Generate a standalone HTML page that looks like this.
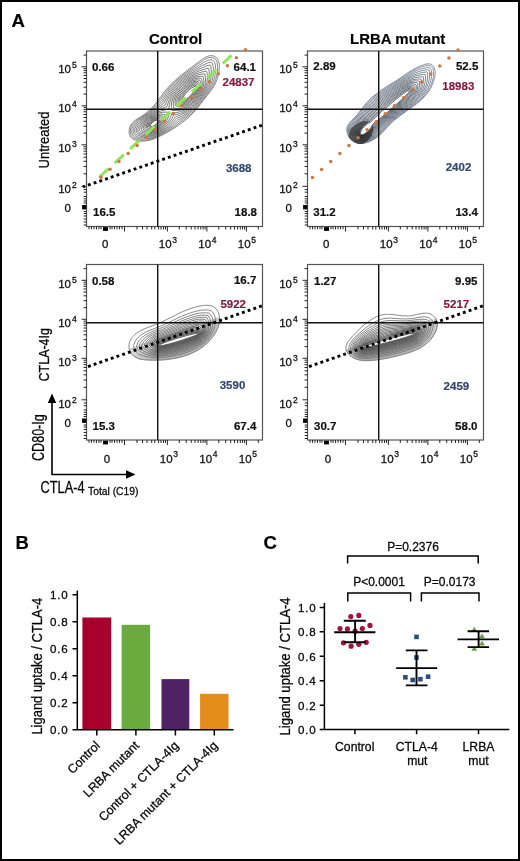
<!DOCTYPE html>
<html><head><meta charset="utf-8"><style>
html,body{margin:0;padding:0;background:#fff;}
body{width:520px;height:861px;overflow:hidden;}
svg{display:block;font-family:"Liberation Sans",sans-serif;will-change:transform;}
</style></head><body>
<svg width="520" height="861" viewBox="0 0 520 861">
<rect x="0" y="0" width="520" height="861" fill="#fff"/>
<g fill="none" stroke-width="0.7" stroke-opacity="1.0" stroke-linejoin="round"><path stroke="#5a5a5a" d="M144.8 141.1l-5 0 -3 -.6 -2.5 -.8 -1.2 -.7 -1 -.6 -1.3 -1.3 -1 -1.7 -.6 -2 0 -3.8 1 -3.5 1.5 -2.5 2.4 -2.4 1.2 -1 9.6 -6.1 4.3 -3.5 2.3 -2.2 4.1 -4.8 8.6 -11.5 4.2 -5 6.4 -6.4 4.1 -3.6 6.9 -5.6 16 -12 4.3 -2.6 3.5 -1.2 2.7 0 1.8 .4 2.2 1.3 1.4 1.7 1 2.5 .6 3.5 .1 1.8 -.3 1.2 0 2 -.7 4.5 -1 3.8 -1.3 3.5 -1.7 3.5 -2.7 4.2 -15.9 20.5 -5.7 6 -4.4 3.8 -8.1 6 -6.3 4.1 -6 3.5 -10 4.9 -5.2 1.8 -5.3 .9z"/><path stroke="#575757" d="M145.3 140.1l-.7 .2 -4.3 -.2 -2.2 -.4 -3.5 -1.2 -1.8 -1.1 -.8 -.8 -1 -1.5 -.6 -2 -.1 -3.2 .9 -3.3 1.4 -2.5 2 -2.1 1.2 -1.1 9.5 -6.3 4.1 -3.2 2.6 -2.5 4.4 -4.8 4.2 -4.9 4.6 -6.6 4.1 -5 6 -6.2 8.4 -7 11.5 -8.5 7.6 -5.3 2.5 -1.5 3 -1.3 2 -.4 1.8 .1 1.2 .3 2 1.2 1 1.4 .7 1.7 .7 4.5 -.1 3.3 -.6 4.2 -1 4.5 -1 3 -2.2 4.5 -2.7 4.3 -12.6 16.5 -2.3 2.7 -5.4 5.5 -4.6 3.8 -5.3 3.7 -5.2 4 -5.6 3.8 -6.3 3.5 -7.7 3.8 -5.3 1.7 -3.2 .7 -1.3 0z"/><path stroke="#545454" d="M144.6 139.1l-4.3 -.2 -3 -.8 -3 -1.4 -1 -.8 -.7 -1.1 -.8 -2.4 0 -2.3 .3 -2 1.4 -3 1.7 -2 3.4 -2.9 9.2 -6.5 7.1 -6.3 6.8 -7 4.6 -7 4 -5.2 5.7 -5.8 7.1 -6.1 8.5 -6.3 8 -5.1 6 -3.5 3.3 -1.3 1.7 -.3 1.7 .2 1.3 .7 .7 .9 .7 2.3 .5 2.2 0 3.3 -.3 4.5 -.7 4 -1.7 5.2 -2.4 4.8 -2.1 3.1 -8.5 11.3 -5.5 6.8 -4.2 4.2 -3.8 3.1 -7.4 5 -6.8 5.6 -7.5 5 -7.5 3.9 -3.5 1.4 -4 1.2 -5 .6z"/><path stroke="#505050" d="M147.3 137.9l-3.2 .1 -3.5 -.4 -3.3 -1 -1.7 -.9 -1.3 -1 -.5 -.8 -.4 -1.5 -.2 -1.8 .2 -1.2 .8 -2.8 1.9 -2.7 3 -2.8 11.5 -8.7 12 -10.5 4.7 -7.7 3.9 -5.1 5.4 -5.7 7.2 -6.3 3.8 -2.8 4.7 -3.2 8.5 -4.9 6.8 -3.2 2.7 -.7 1 0 .5 .1 .5 .9 .8 2.8 .3 3 0 3 -.5 5.5 -.7 3 -.9 2.5 -2.2 4.7 -2.5 4 -6.8 9 -4.8 6.1 -3.9 4 -2.8 2.4 -4.7 3.4 -5.8 3.3 -6.3 5.9 -5.4 4.1 -4.8 2.8 -5 2.6 -3.7 1.4 -3 .7 -2.3 .4z"/><path stroke="#4d4d4d" d="M146.8 136.9l-3 -.1 -3 -.5 -3 -1.1 -1.5 -.8 -1 -.9 -.4 -1.1 -.2 -1.3 .3 -2.5 .8 -2 2 -2.7 2 -2 2.3 -2 13 -10.1 8.7 -6.5 4.5 -8.2 3.8 -5.2 5.2 -5.7 7 -6.1 6.5 -4.6 7.2 -3.9 8.8 -3.8 2.5 -.7 .9 0 .4 1 .5 2.8 .2 6 -.6 5 -1.2 4 -1.9 4.2 -2.6 4.3 -5.9 8 -4.9 6 -3.9 3.8 -2.7 2.3 -5 3.2 -6.1 2.9 -3.9 4.4 -3.5 3.4 -5.5 4.1 -4.9 2.9 -4.4 1.9 -4.5 1.2 -3 .4z"/><path stroke="#4a4a4a" d="M149.3 135.6l-3.5 .2 -3.2 -.4 -3.5 -1.2 -2.5 -1.6 -.4 -2 .5 -2.5 1.1 -2.2 2.1 -2.5 4.2 -4 9 -6.9 5.2 -3.5 6.9 -4.1 2.4 -5.5 1.7 -3.4 3.7 -5.4 5.1 -5.5 7 -6.2 5 -3.5 5 -2.7 4 -1.7 4 -1.4 5.2 -1.5 .3 .5 .5 2.5 .3 5.3 -.6 5 -1.4 4.2 -1.6 3.5 -2.4 4 -5.1 6.8 -3.9 4.7 -2.3 2.5 -2.7 2.5 -2.6 2 -5.2 2.9 -6.3 2.5 -3.5 4.6 -3.4 3.8 -3.1 2.7 -2.2 1.7 -3.4 2.1 -3.9 1.9 -3.2 1.2 -3.3 .6z"/><path stroke="#474747" d="M149.8 134.6l-3 .1 -3.2 -.4 -2.8 -.9 -1.7 -.9 -1.2 -.9 -.1 -1.7 .6 -2 1.3 -2.3 2.3 -3 2.6 -2.5 3.3 -2.7 5.9 -4.4 5.5 -3.1 7.5 -3.3 2.5 -7.2 1.3 -2.8 1.8 -3 2 -2.7 4.4 -5 3.9 -3.5 3 -2.5 4.9 -3.4 4.5 -2.3 6.2 -2 4.5 -1 .8 .1 .3 1.1 .5 3 0 3.5 -.5 3.7 -1.2 4 -1.5 3.3 -2.5 4 -3.9 5.2 -4.2 5 -2.4 2.5 -2.6 2.3 -2.5 1.8 -5.5 2.6 -6.8 1.9 -2.7 4.7 -3.2 4.2 -3.3 3.3 -2 1.6 -3.2 2.1 -3.6 1.9 -2.4 .9 -3.6 .7z"/><path stroke="#444444" d="M150.3 133.6l-3.2 .1 -3.3 -.7 -2.5 -1 -1.9 -1.4 .1 -1.2 .9 -2.3 1.3 -2.2 1.9 -2.6 4.9 -4.4 3 -2.3 3.1 -2 3.2 -1.6 2.8 -1 8 -2 .9 -4.9 .8 -3 1.3 -3.5 1.7 -3.2 2 -2.8 3.5 -4 4.5 -4.4 3 -2.4 4.8 -3.3 4.5 -1.9 2.7 -.8 3.3 -.6 2.7 -.3 .5 .1 .7 3.9 0 3.7 -.5 3.3 -1.4 4 -1.6 3 -2.6 3.7 -6.4 7.8 -2.7 2.6 -2.5 2.1 -2.7 1.7 -3 1.3 -2.5 .8 -3.5 .7 -4 .5 -2 4.8 -1.6 3 -1.7 2.5 -2.8 3.2 -2.2 1.8 -4.5 3 -3.7 1.5 -3.3 .7z"/><path stroke="#404040" d="M178.6 110.4l-2.5 .1 -3.3 -.1 -1.2 -.2 -.4 -.6 .1 -4.5 .6 -4 1.5 -4.2 2.6 -4.3 3.6 -4.2 4.5 -4.4 3.2 -2.6 3.8 -2.5 2.7 -1.3 3.3 -.9 3.5 -.4 2.4 .1 .5 1.5 .4 2.7 -.1 2.8 -.3 2 -1.6 4.7 -3.2 5 -2.4 3 -4.1 4.8 -2.6 2.4 -2.5 2 -2.8 1.6 -3.2 1 -2.5 .5z"/><path stroke="#404040" d="M150.8 132.6l-2.5 .1 -2.5 -.4 -2.7 -1.1 -1.5 -.8 -.4 -.5 .3 -1.5 1 -2.3 1.4 -2.5 1.4 -1.8 2.3 -2.2 2.5 -2 3.5 -2.4 2 -1 3.2 -1.2 3.3 -.7 3.5 -.2 3.5 .2 .1 .6 -.4 2.2 -1.3 4 -1.6 3.3 -2.1 3 -2.4 2.2 -4.1 2.8 -3.7 1.7 -2.8 .5z"/><path stroke="#3d3d3d" d="M181.1 108.4l-1.8 .2 -2.5 -.1 -2.7 -.5 -.6 -.4 -.3 -3.7 .5 -3.5 1.2 -3.5 1.9 -3.3 3.3 -4 2.9 -3 3.6 -3.2 2.7 -2.1 2.8 -1.6 3 -1.1 3.2 -.5 3 .3 .4 1 .5 2.5 0 3.5 -1 4 -1.9 3.2 -3.9 5.3 -3.8 4.2 -2.7 2.5 -3.6 2.5 -1.7 .7 -2.5 .6z"/><path stroke="#3d3d3d" d="M151.6 131.6l-2.3 .2 -2 -.3 -2.3 -.9 -1.9 -1.2 .1 -1.3 .8 -2.2 .9 -2 1.5 -2 1.8 -1.8 2.6 -2.2 3 -1.9 1.8 -.8 2.5 -.7 2.5 -.4 3.5 .3 2.1 .5 .1 .5 -.1 1.5 -.7 3 -1.3 3 -1.4 2 -1.7 1.8 -3.3 2.5 -3 1.6 -3.2 .8z"/><path stroke="#3a3a3a" d="M181.3 106.9l-2 0 -1.6 -.3 -1.9 -.6 -.5 -.6 -.2 -3.3 .4 -3 .8 -2.2 1.8 -3 3 -3.8 2.7 -2.7 3.6 -3.3 2.4 -1.8 2.8 -1.5 2.2 -.7 2.5 -.3 2.4 .3 .5 1 .6 1.8 .1 3 -.8 3.5 -1.8 3.1 -3.4 4.6 -3.8 4.2 -1.7 1.6 -1.8 1.5 -2.4 1.5 -2.1 .7 -1.8 .3z"/><path stroke="#3a3a3a" d="M150.6 130.9l-1.5 -.1 -1.5 -.4 -1.8 -.8 -1 -1 .2 -1.7 .6 -2 .8 -1.5 1.1 -1.5 2.1 -2 1.7 -1.4 2.5 -1.6 1.5 -.6 2.3 -.6 2 -.1 2.2 .3 2 .7 .3 .5 0 1 -.6 3 -1.1 2.5 -1.7 2.3 -3.1 2.5 -2.3 1.2 -2.2 .9 -2.5 .4z"/><path stroke="#373737" d="M182.6 105.4l-1.5 0 -1.8 -.3 -2 -.8 -.4 -.7 -.2 -2.5 .4 -2.7 .6 -1.5 1.5 -2.5 2.6 -3.4 2.5 -2.6 3.8 -3.4 2.2 -1.7 2.3 -1.2 1.5 -.6 2.5 -.2 1.7 .3 1.1 2.3 .3 2.5 -.6 3 -1.4 2.5 -3.5 4.7 -3.7 4 -1.7 1.5 -1.7 1.4 -1.8 1 -2.7 .9z"/><path stroke="#373737" d="M151.8 129.9l-1.5 .1 -1.5 -.3 -1.5 -.7 -1 -.9 0 -1.5 .5 -2 1.4 -2.2 1.9 -2 1.5 -1.2 3.5 -1.9 2.2 -.5 1.5 0 1.5 .3 1.8 1 .3 .5 0 1 -.6 2.5 -.6 1.5 -1.3 1.8 -2.6 2.1 -1.5 1 -2.2 1 -1.8 .4z"/><path stroke="#343434" d="M182.3 104.1l-1.5 -.2 -1.2 -.5 -1 -.7 -.3 -.8 -.1 -1.5 .4 -2.3 1.9 -3.5 4.2 -5 2.4 -2.3 3 -2.4 2.5 -1.6 1.2 -.5 2 -.2 1.3 .3 1.2 2 .3 1.2 0 1 -.5 2.3 -2.3 3.6 -2.4 3.1 -3.6 3.8 -1.5 1.4 -3.2 2.2 -1 .3 -1.8 .3z"/><path stroke="#343434" d="M152.8 128.9l-2 .2 -1 -.1 -1.2 -.6 -1 -.8 -.1 -1 .2 -1.2 .3 -1.3 .6 -1 2.4 -2.5 1.3 -1 2.5 -1.4 3 -.4 1 .2 1.3 .6 .7 .8 .1 1.2 -.4 2 -1 1.8 -.7 .7 -2.3 2 -2.2 1.2 -1.5 .6z"/><path stroke="#303030" d="M184.3 102.6l-1.5 .2 -1.2 -.1 -1.3 -.8 -.6 -.8 -.1 -1 .2 -1.7 1.5 -3 4 -4.9 4.5 -4.1 1.8 -1.2 2 -1.1 1.5 -.2 1 .3 1 1.2 .4 1.5 -.2 2 -1.2 2.2 -3.2 4.3 -3.6 3.7 -3.2 2.6 -1.8 .9z"/><path stroke="#303030" d="M152.3 128.1l-2 0 -.7 -.3 -.8 -.7 -.2 -.7 .1 -1.5 .7 -1.5 1.9 -2.1 1.3 -1 2.2 -1.2 2.5 -.4 1.5 .7 .8 .7 .1 .8 -.3 1.7 -.9 1.5 -2.7 2.5 -2 1.1 -1.5 .4z"/><path stroke="#2d2d2d" d="M183.8 101.6l-1 .1 -.7 -.3 -.7 -.5 -.4 -.8 .1 -1.7 1.9 -3.3 3.3 -4 4 -3.7 1.8 -1.2 1.7 -.9 1 -.1 .8 .3 .8 1.1 0 1.8 -.9 2 -1.2 1.7 -2.1 2.8 -3.6 3.6 -3 2.3 -1.8 .8z"/><path stroke="#2d2d2d" d="M152.8 127.2l-2 .1 -1 -.6 -.2 -.6 0 -.7 .1 -.8 .4 -.7 1.7 -2.1 1.3 -.9 1.7 -.9 1.8 -.4 1.1 .3 .5 .5 .3 .7 -.1 1.3 -.6 1.2 -2.2 2.2 -2.8 1.4z"/><path stroke="#2a2a2a" d="M184.1 100.5l-.8 .1 -.6 -.2 -.4 -.5 0 -1 1.1 -2.3 2.2 -2.9 3.3 -3.6 2.2 -1.9 3 -1.7 1 0 .4 .6 -.1 1.5 -.8 1.5 -1.8 2.5 -1.4 1.8 -3.3 3.3 -1.5 1.2 -2.5 1.6z"/><path stroke="#2a2a2a" d="M152.3 126.4l-1.2 0 -.6 -.5 .1 -1.2 1.1 -1.6 1.8 -1.5 1.8 -1 1 -.1 .8 .1 .4 .5 0 .8 -.7 1.5 -1.8 1.7 -1.2 .8 -1.5 .5z"/></g>
<rect x="86.5" y="51" width="176" height="175.5" fill="none" stroke="#555" stroke-width="1.2"/>
<path d="M81.5 186.3H86.5M81.5 144.8H86.5M81.5 105.8H86.5M81.5 66.8H86.5M83.5 173.8H86.5M83.5 166.5H86.5M83.5 161.3H86.5M83.5 157.3H86.5M83.5 154H86.5M83.5 151.2H86.5M83.5 148.8H86.5M83.5 146.7H86.5M83.5 133.1H86.5M83.5 126.2H86.5M83.5 121.3H86.5M83.5 117.5H86.5M83.5 114.5H86.5M83.5 111.8H86.5M83.5 109.6H86.5M83.5 107.6H86.5M83.5 94.1H86.5M83.5 87.2H86.5M83.5 82.3H86.5M83.5 78.5H86.5M83.5 75.5H86.5M83.5 72.8H86.5M83.5 70.6H86.5M83.5 68.6H86.5M83.5 55.1H86.5M83.7 189.5H86.5M83.7 192.2H86.5M83.7 196.5H86.5M83.7 198.8H86.5M83.7 201H86.5M83.7 203H86.5M83.7 211.5H86.5M83.7 213.5H86.5M83.7 216H86.5M83.7 219H86.5M83.7 222H86.5M83.7 225H86.5M167.4 226.5V231.5M206.9 226.5V231.5M246.4 226.5V231.5M179.3 226.5V229.5M186.2 226.5V229.5M191.2 226.5V229.5M195 226.5V229.5M198.1 226.5V229.5M200.8 226.5V229.5M203.1 226.5V229.5M205.1 226.5V229.5M218.8 226.5V229.5M225.7 226.5V229.5M230.7 226.5V229.5M234.5 226.5V229.5M237.6 226.5V229.5M240.3 226.5V229.5M242.6 226.5V229.5M244.6 226.5V229.5M258.3 226.5V229.5M89 226.5V229.3M91.5 226.5V229.3M94 226.5V229.3M96.5 226.5V229.3M99 226.5V229.3M101 226.5V229.3M110 226.5V229.3M112 226.5V229.3M114.5 226.5V229.3M117 226.5V229.3M119.5 226.5V229.3M122 226.5V229.3M124.5 226.5V231.5M137 226.5V229.5M142.5 226.5V229.5M147 226.5V229.5M151.7 226.5V229.5M154.8 226.5V229.5M158.6 226.5V229.5M161 226.5V229.5M163.5 226.5V229.5M165.5 226.5V229.5" stroke="#111" stroke-width="0.9" fill="none"/>
<rect x="82.1" y="205" width="4.3" height="4.4" fill="#000"/>
<rect x="103" y="227.1" width="5" height="3.8" fill="#000"/>
<path d="M157.7 51V226.5M86.5 109.3H262.5" stroke="#111" stroke-width="1.4" fill="none"/>
<line x1="99.2" y1="177.3" x2="231.5" y2="55.4" stroke="#8ee65a" stroke-width="2.9" stroke-dasharray="12.5 8.5"/><g fill="#cd7843"><circle cx="101" cy="177.3" r="1.75"/><circle cx="110" cy="169.3" r="1.75"/><circle cx="119" cy="161.4" r="1.75"/><circle cx="128.1" cy="153.4" r="1.75"/><circle cx="137.1" cy="145.4" r="1.75"/><circle cx="146.1" cy="137.5" r="1.75"/><circle cx="155.2" cy="129.5" r="1.75"/><circle cx="164.2" cy="121.5" r="1.75"/><circle cx="173.2" cy="113.6" r="1.75"/><circle cx="182.2" cy="105.6" r="1.75"/><circle cx="191.2" cy="97.6" r="1.75"/><circle cx="200.3" cy="89.6" r="1.75"/><circle cx="209.3" cy="81.7" r="1.75"/><circle cx="218.3" cy="73.7" r="1.75"/><circle cx="227.4" cy="65.7" r="1.75"/><circle cx="236.4" cy="57.8" r="1.75"/><circle cx="245.4" cy="49.8" r="1.75"/></g><line x1="83" y1="186.9" x2="262.5" y2="125.1" stroke="#000" stroke-width="2.9" stroke-dasharray="2.9 3.14" stroke-dashoffset="0.8"/>
<g fill="#111"><text x="58.2" y="72.8" font-size="11.5" stroke="#111" stroke-width="0.28">10</text><text x="72" y="67.9" font-size="8.5" stroke="#111" stroke-width="0.28">5</text><text x="58.2" y="111.8" font-size="11.5" stroke="#111" stroke-width="0.28">10</text><text x="72" y="107" font-size="8.5" stroke="#111" stroke-width="0.28">4</text><text x="58.2" y="151.5" font-size="11.5" stroke="#111" stroke-width="0.28">10</text><text x="72" y="146.5" font-size="8.5" stroke="#111" stroke-width="0.28">3</text><text x="58.2" y="193.3" font-size="11.5" stroke="#111" stroke-width="0.28">10</text><text x="72" y="188.4" font-size="8.5" stroke="#111" stroke-width="0.28">2</text><text x="64.4" y="211.6" font-size="11.5" stroke="#111" stroke-width="0.28">0</text><text x="102" y="248.3" font-size="11.5" stroke="#111" stroke-width="0.28">0</text><text x="158.8" y="248.4" font-size="11.5" stroke="#111" stroke-width="0.28">10</text><text x="172.2" y="243" font-size="8.5" stroke="#111" stroke-width="0.28">3</text><text x="198.3" y="248.4" font-size="11.5" stroke="#111" stroke-width="0.28">10</text><text x="211.7" y="243" font-size="8.5" stroke="#111" stroke-width="0.28">4</text><text x="237.8" y="248.4" font-size="11.5" stroke="#111" stroke-width="0.28">10</text><text x="251.2" y="243" font-size="8.5" stroke="#111" stroke-width="0.28">5</text></g>
<g font-size="11.5" font-weight="bold"><text x="91.9" y="70.8" text-anchor="start" fill="#111" font-weight="bold" stroke="#111" stroke-width="0.2">0.66</text><text x="256" y="70.6" text-anchor="end" fill="#111" font-weight="bold" stroke="#111" stroke-width="0.2">64.1</text><text x="254.5" y="85.5" text-anchor="end" fill="#7e1c3c" font-weight="bold" stroke="#7e1c3c" stroke-width="0.2">24837</text><text x="251.5" y="171.5" text-anchor="end" fill="#34476e" font-weight="bold" stroke="#34476e" stroke-width="0.2">3688</text><text x="93" y="215.7" text-anchor="start" fill="#111" font-weight="bold" stroke="#111" stroke-width="0.2">16.5</text><text x="257" y="215.5" text-anchor="end" fill="#111" font-weight="bold" stroke="#111" stroke-width="0.2">18.8</text></g>
<g fill="none" stroke-width="0.7" stroke-opacity="1.0" stroke-linejoin="round"><path stroke="#56667a" d="M363 143.5l-3.5 .1 -2 -.4 -1.5 -.5 -2.5 -1.2 -2.3 -1.7 -1.8 -2.1 -1.7 -3 -.8 -2.8 0 -3.5 .6 -2.2 1.8 -3 7.4 -7.9 10.3 -13.1 5 -5 7 -5.4 6.7 -4.6 11 -6.8 10 -6.9 5.8 -3.7 5 -2.6 3 -1.3 4.2 -1.5 2.3 -.5 3 0 1 .3 1 .7 1.2 1.3 .7 1 1 2.7 .3 1.5 .1 2.5 -.6 3.5 -1.2 4.3 -1 2.7 -1.7 3.5 -2.5 4 -2.6 3.5 -5 5 -4.2 3.5 -16.4 11.8 -6.1 4.8 -4.5 4.3 -7.3 7.9 -4.2 3.8 -3 2.2 -4.5 2.5 -4 1.6 -3.5 .7z"/><path stroke="#536376" d="M363 143l-3.3 .1 -2 -.3 -1.7 -.6 -2 -1.1 -2.5 -1.9 -1.5 -1.8 -1.6 -3 -.8 -2.7 0 -3.3 .7 -2.2 1.7 -2.8 7.2 -7.6 10.5 -13.1 4.8 -4.8 7 -5.4 6.7 -4.6 10.8 -6.8 10.2 -6.9 3.8 -2.3 6.7 -3.5 3 -1.2 3.8 -1.2 2.7 -.6 2 .1 1 .2 1 .7 1.6 2 .9 3.5 -.1 3.8 -.6 3.2 -1.6 5 -1.7 3.7 -2.2 3.8 -2.5 3.5 -4.6 4.8 -4.4 3.7 -16.2 11.8 -6.1 4.8 -4.7 4.5 -7.3 7.8 -4.2 3.8 -2.8 2.1 -4.2 2.4 -4.3 1.7 -3.2 .7z"/><path stroke="#505f72" d="M362.7 142.4l-3 .1 -2.5 -.6 -3 -1.4 -2.3 -1.8 -1.3 -1.8 -1.5 -2.7 -.6 -2.8 0 -2.7 .7 -2.3 1.5 -2.5 8.5 -9.1 9.5 -11.6 4.5 -4.5 6.8 -5.3 6.7 -4.6 21.8 -14 5.5 -3 4.2 -1.9 3 -1 4 -1 2.3 -.4 1.7 .2 .8 .5 1 1.5 .7 2.5 .1 1 -.3 3.5 -.8 4 -.9 3 -2 4.7 -2.8 4.5 -2.8 3.5 -2.5 2.6 -4.2 3.7 -16 11.8 -6.3 5 -4.7 4.5 -7.3 7.7 -2.7 2.7 -3.3 2.6 -3.5 2.3 -3.2 1.6 -2.5 .8 -3.3 .7z"/><path stroke="#4d5c6e" d="M362.5 141.9l-2.5 0 -2.5 -.5 -3 -1.5 -2.1 -1.7 -1.2 -1.7 -1.3 -2.6 -.6 -2.7 .1 -2.3 .6 -2 1.5 -2.5 9.5 -10.2 8.5 -10.3 4.3 -4.2 6.9 -5.5 6.5 -4.5 19.3 -12.5 6 -3.2 6.5 -2.6 6 -1.4 2.7 -.3 .9 .2 .4 .6 .6 1.9 .1 2.5 -.3 3.5 -1.1 4.8 -1.6 4.2 -2 3.8 -1.5 2.5 -3.4 4 -2.3 2.2 -3.5 2.9 -15 11.2 -6.1 4.9 -4.9 4.6 -9.8 10.2 -3.5 2.8 -3.5 2.3 -3 1.5 -2.5 .9 -3.2 .7z"/><path stroke="#4a586a" d="M361.7 141.4l-2 -.1 -2.7 -.7 -2.3 -1.4 -1.7 -1.5 -1.1 -1.5 -1.2 -2.5 -.5 -2.5 .1 -2.3 .7 -2 1.2 -2 11.5 -12.4 6.6 -7.8 4.2 -4.2 7 -5.6 10.2 -7 14.8 -9.5 5.7 -2.8 5.3 -1.9 5.2 -1.2 3.8 -.5 .7 .2 .3 .7 .1 1.8 -.1 3.2 -.6 4.3 -.9 3 -1.5 3.8 -2.2 3.9 -3.6 4.5 -6.2 5.5 -13.8 10.5 -6.2 5 -5.2 4.8 -9.6 9.9 -3.3 2.8 -3.4 2.4 -3 1.5 -3.3 1.1 -3 .5z"/><path stroke="#485567" d="M363.2 140.7l-2.7 .1 -2 -.3 -1.8 -.7 -2.3 -1.6 -1.1 -1.3 -1.7 -3 -.5 -2.7 .1 -2 .5 -1.8 1.3 -2 11.5 -12.3 6.7 -7.9 4 -3.9 6.8 -5.4 8.2 -5.9 14.8 -9.6 5.2 -2.6 5.8 -2 4.7 -1 3 -.3 1.5 0 .3 1.2 0 3.2 -.4 3.3 -1 4 -.8 2.2 -1.8 3.8 -3.4 4.5 -3.1 3 -3 2.5 -13.8 10.7 -6.2 5.1 -4.6 4.2 -7.4 7.2 -2.8 3.1 -3.2 2.9 -3.5 2.5 -2.5 1.3 -2.3 .8 -2.5 .7z"/><path stroke="#455263" d="M362.7 140.2l-2.2 .1 -2 -.4 -1.8 -.9 -2 -1.5 -1.5 -2.1 -.9 -2.2 -.4 -2.3 .3 -2.2 1 -2 1.5 -2 4.9 -5.3 5.6 -5.7 6.8 -7.7 3.9 -3.8 6.8 -5.6 10 -7.1 12.3 -8 4 -2 5 -1.6 5.5 -1 2.5 -.1 1.3 .1 .2 1 -.2 4.3 -.5 3 -.7 2.5 -.8 2.2 -1.5 2.8 -2.1 3 -1.7 1.9 -7.3 6.2 -11 8.6 -6.1 5 -5.4 4.9 -6.8 6.6 -2.7 3.1 -3.2 3 -3.5 2.4 -2.5 1.4 -2 .7 -2.8 .7z"/><path stroke="#424e5f" d="M362.2 139.7l-2 0 -1.7 -.5 -2 -1 -1.4 -1.3 -1.3 -2 -.8 -2.2 -.2 -2 .4 -2 1.1 -2 2.3 -2.8 3.6 -4 5.7 -5.5 6.8 -7.7 4 -3.8 6.8 -5.5 9.7 -7 12 -8 3.5 -1.6 4.3 -1.2 5 -.6 2.7 0 .6 .2 .2 1.7 -.2 3.3 -.3 2.2 -.8 2.8 -.7 1.7 -1.4 2.5 -1.2 1.8 -1.7 1.8 -7 6.2 -10.7 8.5 -9.3 7.8 -9.4 8.9 -2.5 3 -3.5 3.3 -3.3 2.3 -2.3 1.2 -3 1.1 -2 .4z"/><path stroke="#3f4b5b" d="M361.7 139.2l-1.5 -.1 -1.7 -.5 -1.9 -1.2 -1.2 -1.2 -1 -1.8 -.6 -2 -.1 -1.7 .4 -2 1.1 -1.8 3.4 -4 4.1 -4.2 3.8 -3.4 7 -7.8 4 -3.8 6.5 -5.4 9.5 -6.9 6 -4.2 6 -3.8 3.5 -1.5 3.2 -.8 4 -.3 3.2 .4 .2 1 0 3 -.9 4.5 -1.8 3.7 -2.3 3 -2.4 2.3 -4.5 3.8 -10.7 8.7 -9.3 7.8 -9.5 8.9 -2.4 3 -3.4 3.3 -3.2 2.3 -2.5 1.3 -2.7 1 -2.3 .4z"/><path stroke="#3c4857" d="M363.2 138.4l-3 .1 -1.5 -.5 -1.4 -.8 -1 -1 -.8 -1.3 -.9 -3 .2 -2.2 .8 -1.8 2.3 -3 3.5 -3.7 5.6 -5 6.3 -7 5.3 -5 4.1 -3.5 5.3 -4.1 12 -8.6 6 -3.8 3 -1.2 2 -.4 2.2 -.2 2.5 .1 1.8 .4 .3 .8 .1 2.2 -.5 3.5 -1.5 3.8 -2.1 2.7 -2.1 2.1 -4.5 3.9 -20 16.7 -9.7 8.9 -2.3 2.9 -3 3 -3.3 2.5 -1.9 1.1 -2 .9 -1.8 .5z"/><path stroke="#394453" d="M363 137.9l-2.8 0 -1.2 -.4 -1.3 -.9 -.9 -.9 -.6 -1 -.7 -3 .2 -2 .8 -1.5 2.2 -2.9 3.4 -3.6 1.9 -1.8 3.5 -2.9 6.8 -7.3 6.9 -6.4 9.1 -7.1 10.2 -7.4 5.7 -3.7 2.3 -.9 2 -.4 1.7 0 2.3 .3 1.5 .5 .3 1.3 0 2.3 -.8 3.5 -.6 1.2 -.8 1.3 -2.8 3 -7.3 6.5 -14 11.6 -13 11.6 -2.3 3 -3.2 3.3 -3 2.3 -1.8 1 -2 .9 -1.7 .5z"/><path stroke="#36414f" d="M362.5 137.4l-2.3 -.1 -1 -.4 -1.2 -.9 -1.1 -1.6 -.6 -2.7 .3 -1.8 .6 -1.2 2.1 -2.8 3.4 -3.7 2 -1.8 3.5 -2.7 6.8 -7.2 7 -6.4 9 -7.2 10 -7.3 4.4 -2.9 2.8 -1.4 1.5 -.2 1.8 -.1 1.7 .4 1.3 .5 .3 1 .1 1.8 -.5 3 -1.2 2.1 -2.5 2.7 -7 6.4 -14.2 11.9 -13.3 11.7 -1.6 2.4 -1.5 1.8 -3.1 2.9 -2.1 1.6 -2.2 1.2 -1.5 .6 -1.7 .4z"/><path stroke="#343e4c" d="M361.5 136.9l-1 -.1 -.8 -.3 -1.6 -1.3 -.5 -1 -.3 -1.3 0 -2 .3 -1.2 1.4 -2.1 4.2 -4.7 2 -1.8 3.5 -2.5 7 -7.4 7 -6.3 8.9 -7.2 9.9 -7.4 4.2 -2.8 2.3 -1.1 1.5 -.2 1.2 0 1.5 .4 1 .5 .5 2.3 -.5 2.5 -.8 1.5 -2.5 2.8 -6.9 6.3 -27.3 23.4 -1.7 2.5 -1.5 1.8 -3.3 3.2 -2 1.4 -2.2 1.3 -2 .7 -1.5 .1z"/><path stroke="#313a48" d="M363.2 136.2l-2.2 .1 -.8 -.2 -.7 -.5 -1 -1.2 -.4 -2.2 .2 -1.8 .5 -1 1.9 -2.6 3 -3.3 3.3 -2.6 2.2 -1.5 7.3 -7.4 7 -6.4 8.7 -7.1 7.8 -5.9 4.7 -3.4 3 -1.7 1 -.2 1.3 -.1 1.2 .4 .8 .4 .5 1.7 -.4 2.2 -1.1 1.8 -1.8 1.9 -10.4 9.6 -23.8 20.3 -2.3 3.4 -2 2.3 -1.7 1.6 -3 2.1 -2.8 1.3z"/><path stroke="#2e3744" d="M363 135.7l-2 .1 -1 -.6 -.9 -1 -.2 -1.8 .3 -1.7 .3 -.8 1.8 -2.5 2.9 -3.2 3.3 -2.6 2.2 -1.3 7.3 -7.4 5.2 -4.7 5.8 -5 10.2 -8.1 7 -5.1 2.5 -1.4 1.8 -.3 .7 .1 .8 .5 .4 1.3 -.3 1.7 -.9 1.3 -1.7 1.9 -6.5 6.2 -6.5 5.8 -14.3 12.2 -7 5.9 -2 3.2 -2 2.3 -1.8 1.7 -3.4 2.4 -2 .9z"/><path stroke="#2b3340" d="M362.5 135.2l-1.5 0 -.8 -.6 -.4 -.7 0 -1.5 .4 -1.8 1 -1.7 1.8 -2.2 1.7 -1.8 3.3 -2.6 2.2 -1.2 4.2 -4.2 8.3 -7.7 9.3 -7.9 6.7 -5.4 4.5 -3.4 4 -2.6 1.5 -.6 .8 0 .6 .4 .2 .5 0 1 -.8 1.5 -1.5 1.7 -6.4 6.3 -14.6 12.8 -13.5 11.2 -1.9 3.2 -2 2.5 -1.6 1.6 -3.4 2.4 -2.1 .8z"/><path stroke="#28303c" d="M362 134.7l-.8 -.1 -.7 -.7 -.1 -1 .6 -1.7 1.7 -2.8 2.5 -2.8 3.3 -2.5 2.2 -1.1 4.3 -4.2 6.2 -5.8 15.6 -13.3 9.4 -7.1 2.3 -1.3 .5 -.1 .3 .2 .1 .5 -.1 .5 -1.8 2.3 -6.5 6.5 -14.5 12.8 -11 9.1 -2.5 1.9 -2.1 3.7 -1.8 2.2 -1.5 1.5 -3.4 2.5 -2.2 .8z"/></g><clipPath id="cTR"><ellipse cx="361" cy="133" rx="14" ry="10" transform="rotate(-42 361 133)"/></clipPath><g clip-path="url(#cTR)"><g fill="none" stroke-width="0.55" stroke-opacity="1.0" stroke-linejoin="round"><path stroke="#3a3a3a" d="M363 143.5l-3.5 .1 -2 -.4 -1.5 -.5 -2.5 -1.2 -2.3 -1.7 -1.8 -2.1 -1.7 -3 -.8 -2.8 0 -3.5 .6 -2.2 1.8 -3 7.4 -7.9 10.3 -13.1 5 -5 7 -5.4 6.7 -4.6 11 -6.8 10 -6.9 5.8 -3.7 5 -2.6 3 -1.3 4.2 -1.5 2.3 -.5 3 0 1 .3 1 .7 1.2 1.3 .7 1 1 2.7 .3 1.5 .1 2.5 -.6 3.5 -1.2 4.3 -1 2.7 -1.7 3.5 -2.5 4 -2.6 3.5 -5 5 -4.2 3.5 -16.4 11.8 -6.1 4.8 -4.5 4.3 -7.3 7.9 -4.2 3.8 -3 2.2 -4.5 2.5 -4 1.6 -3.5 .7z"/><path stroke="#393939" d="M363 143.2l-3.5 .1 -1.8 -.3 -1.7 -.6 -2.3 -1.1 -2.4 -1.9 -1.5 -1.7 -1.1 -1.8 -.7 -1.5 -.8 -2.7 .1 -3.3 .6 -2.2 1.8 -3 7.3 -7.6 10.4 -13.2 4.8 -4.8 7 -5.5 6.8 -4.6 10.7 -6.7 10.3 -7 5.7 -3.5 4.8 -2.5 3 -1.3 4.5 -1.4 2.2 -.5 2.5 .1 1 .3 1 .7 1 1 .9 1.5 .9 3.2 .1 2.5 -.5 3.3 -1.2 4.5 -1 2.7 -1.6 3.3 -2.4 4 -2.6 3.5 -4.8 4.9 -4.3 3.6 -16.2 11.7 -6 4.8 -4.8 4.5 -7.2 7.8 -4.3 3.8 -2.8 2.1 -4.4 2.5 -4.3 1.6 -3.2 .7z"/><path stroke="#393939" d="M362.7 142.9l-3.2 .1 -2.5 -.6 -3.1 -1.5 -2.4 -1.9 -1.3 -1.6 -1.7 -3 -.7 -2.7 0 -3 .7 -2.4 1.7 -2.9 7.2 -7.5 10.6 -13.2 4.5 -4.5 7 -5.5 6.7 -4.6 25 -16.1 6.5 -3.3 3.3 -1.3 3.5 -1 2.7 -.6 1.8 .1 1 .2 1 .6 1.4 2 .9 3.2 .1 1.8 -.2 2 -.6 3.2 -1.5 5 -1.6 3.5 -2.1 3.8 -2.7 3.7 -4.5 4.7 -4.2 3.6 -16.3 11.8 -6.1 4.9 -4.8 4.5 -7.1 7.8 -2.9 2.7 -2.3 1.8 -3 2.1 -3.3 1.8 -4 1.6 -3.5 .7z"/><path stroke="#383838" d="M362 142.7l-2.5 -.1 -3 -.8 -2.5 -1.3 -2.3 -1.8 -1.6 -2.3 -1.1 -2.2 -.7 -2.8 0 -2.7 .7 -2.3 1.7 -2.7 5.3 -5.5 3.1 -3.5 9.4 -11.6 4.5 -4.5 6.9 -5.4 6.6 -4.5 11 -7 7.5 -5 5 -3.1 5.7 -3 5.5 -2.1 3.8 -1 2.5 -.4 1.7 .1 1 .6 1.2 1.6 .8 3.3 -.3 4 -.8 4 -1 3.2 -2 4.5 -2.9 4.7 -2.5 3.1 -2.8 3 -4.4 3.7 -16 11.8 -6 4.8 -5 4.7 -7.2 7.7 -2.8 2.7 -3.3 2.6 -3.5 2.2 -3.2 1.6 -3.5 1.1 -3 .6z"/><path stroke="#373737" d="M362.7 142.2l-3 .1 -2.5 -.6 -3 -1.5 -2.1 -1.8 -1.6 -2.2 -1.1 -2.3 -.6 -2.5 .1 -2.7 .6 -2 1.5 -2.5 8.6 -9.3 9.4 -11.4 4.4 -4.3 6.8 -5.5 6.8 -4.6 21.2 -13.7 6 -3.1 4.3 -1.8 3 -1 3.7 -.8 2.3 -.3 1.5 .1 .5 .3 .8 1.4 .6 2 .1 1.2 -.5 5.3 -1.1 4.5 -1.4 3.5 -1.9 3.7 -2.4 3.7 -2.7 3.1 -1.5 1.6 -4.3 3.7 -16 11.9 -6 4.8 -5 4.7 -9.7 10.1 -3.5 2.9 -3.5 2.3 -3.3 1.5 -2.2 .8 -3.3 .7z"/><path stroke="#373737" d="M362.5 141.9l-2.5 .1 -2.6 -.6 -2.9 -1.5 -2.1 -1.7 -1.2 -1.7 -1.3 -2.6 -.6 -2.7 .1 -2.3 .6 -2 1.5 -2.5 9.5 -10.3 8.4 -10.2 4.4 -4.2 6.9 -5.5 6.5 -4.6 15.3 -10 6 -3.6 6.2 -3 4.5 -1.7 2.8 -.8 3.7 -.7 2.3 -.2 .7 .3 .9 2.5 .1 2.8 -.3 3.5 -1 4.5 -1.7 4.3 -1.9 3.7 -1.6 2.5 -3.4 4 -4.8 4.3 -16 12.1 -6 4.8 -5 4.6 -9.8 10.2 -3.5 2.9 -3.5 2.3 -3 1.5 -2.5 .8 -3.2 .7z"/><path stroke="#363636" d="M361.7 141.7l-2 -.1 -3 -.9 -2 -1.1 -2 -1.7 -1.2 -1.7 -1.2 -2.5 -.5 -2.5 .1 -2.3 .6 -2 1.4 -2.2 9.6 -10.3 8.5 -10.1 4.2 -4.1 6.9 -5.5 8.4 -5.9 16.7 -10.8 5.8 -2.9 5.2 -2.1 5.3 -1.4 3.7 -.5 1.6 .1 .6 1.7 0 5 -.8 4.5 -.9 3 -1.8 4 -2.1 3.8 -3.7 4.5 -6.4 5.5 -13.9 10.5 -6.2 5 -5.1 4.7 -9.7 10 -3.3 2.9 -3.5 2.3 -3 1.5 -3.3 1.1 -3 .5z"/><path stroke="#363636" d="M362.7 141.2l-2.7 .1 -2.3 -.5 -2.7 -1.5 -2 -1.8 -1.4 -2.1 -.8 -2 -.5 -2.2 .2 -2.3 .6 -2 1.3 -2 11.4 -12.2 6.7 -8 4.1 -4 6.9 -5.5 10.4 -7.3 11.3 -7.4 3.3 -1.9 6 -2.9 5.2 -1.8 5.3 -1.2 3.5 -.3 .5 .2 .3 2.1 -.1 3.2 -.6 4.3 -.8 3 -1.5 3.7 -2 3.8 -3.6 4.5 -3.1 3 -3.1 2.5 -14 10.7 -6.2 5 -5.1 4.7 -6.7 6.8 -2.8 3 -3.4 3 -3.6 2.4 -2.7 1.4 -2.3 .8 -3 .7z"/><path stroke="#353535" d="M362.2 140.9l-2.2 0 -2.8 -.7 -2.1 -1.3 -1.9 -1.7 -.9 -1.5 -1 -2.3 -.5 -2.5 .2 -2 .6 -1.7 1.3 -2 11.4 -12.3 6.7 -7.8 4 -3.9 6.8 -5.5 8.4 -5.9 14.8 -9.7 5.2 -2.7 5.8 -2 4.7 -1.1 2.8 -.4 2.2 0 .3 .5 .1 1.3 -.1 3.2 -.5 3.3 -1 4 -.9 2.5 -1.9 3.7 -3.5 4.5 -3 2.9 -3.1 2.6 -13.9 10.7 -6 4.9 -5.3 4.9 -6.7 6.6 -2.8 3.2 -3.4 2.9 -3.5 2.4 -2.8 1.4 -3.2 1.1 -2.3 .4z"/><path stroke="#343434" d="M361.5 140.7l-1.5 -.1 -2.8 -.8 -2 -1.3 -1.6 -1.6 -1.2 -2 -.8 -2.2 -.2 -2 .3 -2.4 1 -1.9 1.3 -1.7 10.7 -11.4 6.8 -7.8 3.9 -3.8 6.8 -5.5 8.3 -5.9 14.6 -9.6 5.1 -2.5 4 -1.4 2.5 -.6 4.3 -.7 3 -.3 .7 .2 .2 2.3 -.3 3.7 -1.1 5 -1 2.8 -1.3 2.7 -1.7 2.5 -1.8 2.2 -2.9 2.8 -3.1 2.6 -13.6 10.7 -6.1 5 -4.8 4.3 -7.3 7.2 -2.9 3.2 -3.3 2.9 -3.5 2.5 -2.7 1.4 -3.8 1.2 -2.2 .3z"/><path stroke="#343434" d="M363 140.2l-2.5 .1 -2 -.4 -1.7 -.7 -2.1 -1.7 -1.6 -2.1 -.8 -2 -.4 -2.5 .2 -2 .9 -2 1.7 -2.2 4.8 -5.3 5.7 -5.7 6.7 -7.8 3.9 -3.7 6.9 -5.6 10 -7.1 12.3 -8.1 2.7 -1.4 2.8 -1.1 3.7 -1.2 5.3 -.9 3.5 -.2 .5 .2 .1 1.1 -.1 3.5 -.3 2.3 -.8 3.5 -1.9 4.5 -1.6 2.5 -1.5 2 -2.8 2.7 -3.1 2.7 -19.8 15.8 -5.5 5 -6.7 6.5 -2.8 3.2 -3.2 2.9 -3.4 2.4 -2.4 1.3 -2.2 .9 -2.5 .6z"/><path stroke="#333333" d="M362.2 139.9l-2 0 -2 -.5 -2 -1.1 -1.3 -1.1 -1.4 -2 -.8 -2.3 -.3 -2.2 .3 -2 1.1 -2 1.6 -2 4.5 -5 5.7 -5.5 6.7 -7.8 3.9 -3.7 6.8 -5.5 10 -7.2 12 -8 3.5 -1.6 5 -1.6 4.5 -.7 3.5 -.1 .7 .1 .2 2.3 -.1 2.8 -.6 3 -.7 2.5 -1 2.5 -1.3 2.2 -1.4 2 -1.8 2 -7 6 -11 8.7 -9 7.6 -9.3 8.8 -2.7 3.2 -3.3 3 -3.4 2.5 -2.3 1.2 -2.3 .9 -3 .6z"/><path stroke="#323232" d="M361.5 139.7l-1.5 -.1 -2.3 -.8 -1.7 -1.2 -1.4 -1.4 -.8 -1.5 -.7 -2.3 -.2 -1.7 .4 -2 1.1 -2 2.3 -2.8 3.7 -4 5.5 -5.2 7.1 -8 3.7 -3.6 6.8 -5.5 9.7 -7.1 12 -7.9 3.5 -1.7 4 -1.1 5.3 -.6 2.5 0 .6 .2 .2 1.8 -.2 3 -.3 2.2 -.7 2.5 -.8 2 -1.3 2.5 -1.2 1.8 -1.6 1.7 -7 6.1 -10.8 8.7 -9.2 7.7 -9.5 9 -2.5 2.9 -3.5 3.4 -3.2 2.2 -2.5 1.4 -3 1 -2.5 .4z"/><path stroke="#323232" d="M363 139.2l-2.5 .1 -1.8 -.4 -1.5 -.8 -1.7 -1.4 -1.2 -2 -.7 -2 -.1 -2 .3 -1.8 1.1 -2 2.3 -2.8 5.3 -5.5 3.7 -3.5 7 -7.8 4 -3.8 6.8 -5.5 9.5 -7 12 -7.9 3.5 -1.6 3.5 -.8 3.7 -.4 3 .1 .7 .3 .2 1.5 -.1 3.2 -1 4.5 -1.9 3.8 -2.4 2.9 -6.8 6.1 -10.9 8.7 -9.1 7.8 -9.6 9 -2.3 2.8 -3.3 3.2 -3.5 2.5 -2 1.1 -2 .8 -2.2 .6z"/><path stroke="#313131" d="M362.2 138.9l-1.7 .1 -1.8 -.5 -1.8 -1.1 -1.2 -1.2 -1 -1.8 -.6 -2 -.1 -1.7 .3 -1.8 1 -1.7 3.4 -4.1 4.1 -4.2 3.9 -3.4 7 -7.8 4 -3.8 6.5 -5.3 9.5 -7 6 -4.2 5.8 -3.7 3.5 -1.5 3.2 -.7 3.5 -.1 3 .3 .3 .7 0 2.8 -.3 2.5 -.4 2 -1.7 3.7 -2.2 2.8 -2.3 2.2 -4.6 4 -10.5 8.5 -9.4 8 -9.7 9 -2.2 2.8 -3.5 3.3 -3.2 2.4 -2.3 1.2 -2.7 1 -1.8 .3z"/><path stroke="#303030" d="M361.5 138.7l-1.3 -.1 -1.7 -.6 -1.6 -1.1 -.9 -1 -.8 -1.5 -.7 -2.2 .1 -1.8 .3 -1.5 1.8 -2.7 2.5 -2.9 4 -4 3.8 -3.3 7 -7.6 4.2 -4 6.5 -5.4 12.8 -9.4 8.2 -5.4 2.5 -1.1 3 -.7 3.5 -.1 3 .5 .3 1.4 0 2.7 -.4 2.3 -.5 1.7 -1.5 3 -3.4 3.8 -7.5 6.4 -8.1 6.6 -9.4 8 -9.7 8.9 -2.2 2.8 -3.3 3.3 -3.3 2.4 -2.2 1.3 -2.9 1 -2.1 .3z"/><path stroke="#303030" d="M363.2 138.2l-3 0 -1.2 -.4 -1.3 -.8 -1 -.8 -.8 -1.3 -.9 -3 .2 -2.2 .8 -1.6 2.3 -2.9 3.4 -3.8 5.5 -4.8 6.5 -7.1 5.3 -5 4.2 -3.6 5.2 -4 11.8 -8.5 5.8 -3.7 2.5 -1 2 -.5 2.2 -.1 2.3 .2 1.7 .5 .3 .8 .1 2.1 -.1 1.7 -.4 1.8 -1.2 3 -2.2 2.7 -1.8 1.8 -6.8 6 -12.6 10.3 -6.5 5.7 -8.5 7.7 -2 2.7 -3 3.1 -3.3 2.5 -1.7 1 -2 .9 -1.8 .6z"/><path stroke="#2f2f2f" d="M362.5 137.9l-1.5 .1 -1 -.2 -1.3 -.5 -1.2 -.9 -.8 -.9 -.5 -1.1 -.7 -2.7 .3 -2 .7 -1.4 2.2 -2.9 3.5 -3.7 1.8 -1.8 3.5 -2.7 7 -7.5 7 -6.5 8.9 -7 10.1 -7.3 4.5 -3 1.7 -1 1.5 -.5 2 -.4 1.8 -.1 2.2 .3 1.6 .5 .3 1 .1 2.2 -.2 1.8 -.6 2 -.6 1.2 -.8 1.3 -2.8 2.9 -7.2 6.5 -14 11.6 -13.1 11.7 -2.3 3 -3.1 3.2 -3 2.3 -2.1 1.3 -1.9 .8 -2 .4z"/><path stroke="#2e2e2e" d="M361.2 137.7l-2 -.6 -1.8 -1.4 -.9 -1.8 -.4 -1.5 0 -1.2 .2 -1.5 .7 -1.3 2.1 -2.7 3.4 -3.6 2 -1.9 3.5 -2.7 6.7 -7.2 7 -6.4 9 -7.2 10 -7.3 4.5 -3 1.8 -.9 1.2 -.5 1.8 -.3 1.7 0 2 .3 1.3 .6 .3 1.3 0 1.8 -.7 3.2 -1.3 2.3 -2.6 2.7 -7 6.3 -17.2 14.5 -10 8.9 -3.3 4.2 -3.2 3 -2.2 1.6 -2.6 1.4 -2 .7 -2 .2z"/><path stroke="#2e2e2e" d="M363 137.2l-2.5 0 -1 -.3 -1.1 -.7 -1.2 -1.5 -.6 -2.8 .2 -2 .7 -1.2 2.1 -2.8 3.1 -3.4 2.1 -1.8 3.4 -2.6 7 -7.4 7 -6.4 9 -7.3 9.8 -7.1 4.5 -3 2.5 -1.2 1.5 -.3 1.7 0 1.5 .3 1.3 .5 .4 .7 .2 1.8 -.5 3 -1.1 2 -2.5 2.7 -7.2 6.5 -13.9 11.8 -13.4 11.7 -2.1 3 -2.8 3 -1.8 1.5 -2.6 1.8 -2 1 -1.7 .5z"/><path stroke="#2d2d2d" d="M362.7 136.9l-2.2 0 -1 -.4 -1 -.8 -.9 -1.3 -.5 -2.5 .2 -1.7 .7 -1.3 2 -2.7 3 -3.3 2.2 -2 3.5 -2.5 6.9 -7.2 7.1 -6.5 8.8 -7.1 10 -7.4 4.2 -2.8 2.3 -1.1 1.5 -.3 1.2 0 1.5 .4 1.1 .5 .3 .8 .2 1.5 -.4 2.5 -.9 1.7 -2.4 2.8 -7.1 6.4 -27.3 23.4 -2.4 3.4 -2.1 2.3 -1.6 1.5 -3.9 2.6 -3 1.1z"/><path stroke="#2d2d2d" d="M363.2 136.5l-2.5 .1 -1.5 -.8 -.7 -.6 -.4 -.8 -.5 -2.2 .3 -2 .5 -1 1.9 -2.5 3.2 -3.5 3.2 -2.8 2.3 -1.5 7 -7.2 7.2 -6.5 8.8 -7.2 7.7 -5.8 4.8 -3.4 3.2 -1.8 1.3 -.3 1.2 0 1.3 .3 1 .4 .4 .8 .2 1.2 -.3 2.3 -.8 1.5 -2.3 2.6 -7 6.4 -27.3 23.5 -2.4 3.5 -2 2.2 -1.7 1.5 -3.1 2.2 -3 1.4z"/><path stroke="#2c2c2c" d="M363 136.2l-2.3 .1 -1.4 -.9 -.9 -1.2 -.2 -2 .2 -1.8 .5 -1 1.8 -2.5 3 -3.3 3.3 -2.7 2.2 -1.4 7.3 -7.4 7 -6.4 8.7 -7.2 7.8 -5.8 4.7 -3.4 3 -1.7 1 -.3 1.3 0 1.2 .4 .8 .5 .4 1.7 -.3 2 -1.2 1.8 -1.7 1.8 -10.5 9.6 -23.7 20.3 -2.4 3.5 -1.9 2.3 -1.7 1.5 -3.8 2.6 -2.2 .9z"/><path stroke="#2b2b2b" d="M362.7 135.9l-2 0 -1.1 -.7 -.7 -1 -.3 -1.8 .4 -2 .3 -.7 1.8 -2.5 2.9 -3.1 3.2 -2.7 2.3 -1.3 7.5 -7.6 6.9 -6.3 7.3 -6 6.8 -5.3 7 -5.1 2.7 -1.6 1 -.3 1 0 1.5 .6 .5 1.4 -.2 2 -1 1.5 -1.6 1.8 -10.4 9.6 -24 20.5 -2.2 3.4 -1.9 2.2 -1.9 1.7 -3.5 2.5 -2.3 .8z"/><path stroke="#2b2b2b" d="M363.2 135.4l-2 .2 -1 -.4 -.9 -1 -.2 -1.8 .5 -2 1 -1.7 2 -2.5 1.7 -1.8 3.4 -2.7 2 -1.1 7.5 -7.5 5.1 -4.7 9.2 -7.7 7 -5.5 6.7 -4.9 2.5 -1.5 .8 -.2 1 -.1 1.2 .6 .4 1.1 -.1 1.5 -1 1.5 -1.6 1.7 -6.5 6.3 -6.5 5.7 -14.2 12.2 -7.2 5.9 -2 3.4 -1.9 2.3 -1.9 1.7 -3.2 2.3 -1.8 .7z"/><path stroke="#2a2a2a" d="M363 135.2l-1.8 .1 -.7 -.3 -.8 -.8 -.1 -1.5 .4 -2 1.1 -1.8 2 -2.5 1.6 -1.7 3.3 -2.5 2.2 -1.3 4 -4.1 8.5 -7.9 9.2 -7.7 6.8 -5.5 4.4 -3.3 4.1 -2.7 1 -.5 .8 -.1 .7 .1 .5 .4 .3 .6 0 1 -.8 1.5 -1.7 1.9 -6 5.8 -15 13.3 -13.3 11 -2.1 3.5 -1.9 2.2 -1.7 1.7 -3.3 2.3 -1.7 .8z"/></g></g>
<rect x="307.5" y="51" width="176" height="175.5" fill="none" stroke="#555" stroke-width="1.2"/>
<path d="M302.5 186.3H307.5M302.5 144.8H307.5M302.5 105.8H307.5M302.5 66.8H307.5M304.5 173.8H307.5M304.5 166.5H307.5M304.5 161.3H307.5M304.5 157.3H307.5M304.5 154H307.5M304.5 151.2H307.5M304.5 148.8H307.5M304.5 146.7H307.5M304.5 133.1H307.5M304.5 126.2H307.5M304.5 121.3H307.5M304.5 117.5H307.5M304.5 114.5H307.5M304.5 111.8H307.5M304.5 109.6H307.5M304.5 107.6H307.5M304.5 94.1H307.5M304.5 87.2H307.5M304.5 82.3H307.5M304.5 78.5H307.5M304.5 75.5H307.5M304.5 72.8H307.5M304.5 70.6H307.5M304.5 68.6H307.5M304.5 55.1H307.5M304.7 189.5H307.5M304.7 192.2H307.5M304.7 196.5H307.5M304.7 198.8H307.5M304.7 201H307.5M304.7 203H307.5M304.7 211.5H307.5M304.7 213.5H307.5M304.7 216H307.5M304.7 219H307.5M304.7 222H307.5M304.7 225H307.5M388.4 226.5V231.5M427.9 226.5V231.5M467.4 226.5V231.5M400.3 226.5V229.5M407.2 226.5V229.5M412.2 226.5V229.5M416 226.5V229.5M419.1 226.5V229.5M421.8 226.5V229.5M424.1 226.5V229.5M426.1 226.5V229.5M439.8 226.5V229.5M446.7 226.5V229.5M451.7 226.5V229.5M455.5 226.5V229.5M458.6 226.5V229.5M461.3 226.5V229.5M463.6 226.5V229.5M465.6 226.5V229.5M479.3 226.5V229.5M310 226.5V229.3M312.5 226.5V229.3M315 226.5V229.3M317.5 226.5V229.3M320 226.5V229.3M322 226.5V229.3M331 226.5V229.3M333 226.5V229.3M335.5 226.5V229.3M338 226.5V229.3M340.5 226.5V229.3M343 226.5V229.3M345.5 226.5V231.5M358 226.5V229.5M363.5 226.5V229.5M368 226.5V229.5M372.7 226.5V229.5M375.8 226.5V229.5M379.6 226.5V229.5M382 226.5V229.5M384.5 226.5V229.5M386.5 226.5V229.5" stroke="#111" stroke-width="0.9" fill="none"/>
<rect x="303.1" y="205" width="4.3" height="4.4" fill="#000"/>
<rect x="324" y="227.1" width="5" height="3.8" fill="#000"/>
<path d="M378.7 51V226.5M307.5 109.3H483.5" stroke="#111" stroke-width="1.4" fill="none"/>
<g fill="#cd7843"><circle cx="312.5" cy="177.5" r="1.75"/><circle cx="321.6" cy="169.5" r="1.75"/><circle cx="330.7" cy="161.6" r="1.75"/><circle cx="339.8" cy="153.6" r="1.75"/><circle cx="348.9" cy="145.6" r="1.75"/><circle cx="358" cy="137.7" r="1.75"/><circle cx="367.1" cy="129.7" r="1.75"/><circle cx="376.2" cy="121.7" r="1.75"/><circle cx="385.2" cy="113.8" r="1.75"/><circle cx="394.3" cy="105.8" r="1.75"/><circle cx="403.4" cy="97.8" r="1.75"/><circle cx="412.5" cy="89.8" r="1.75"/><circle cx="421.6" cy="81.9" r="1.75"/><circle cx="430.7" cy="73.9" r="1.75"/><circle cx="439.8" cy="65.9" r="1.75"/><circle cx="448.9" cy="58" r="1.75"/><circle cx="458" cy="50" r="1.75"/></g>
<g fill="#111"><text x="279.2" y="72.8" font-size="11.5" stroke="#111" stroke-width="0.28">10</text><text x="293" y="67.9" font-size="8.5" stroke="#111" stroke-width="0.28">5</text><text x="279.2" y="111.8" font-size="11.5" stroke="#111" stroke-width="0.28">10</text><text x="293" y="107" font-size="8.5" stroke="#111" stroke-width="0.28">4</text><text x="279.2" y="151.5" font-size="11.5" stroke="#111" stroke-width="0.28">10</text><text x="293" y="146.5" font-size="8.5" stroke="#111" stroke-width="0.28">3</text><text x="279.2" y="193.3" font-size="11.5" stroke="#111" stroke-width="0.28">10</text><text x="293" y="188.4" font-size="8.5" stroke="#111" stroke-width="0.28">2</text><text x="285.4" y="211.6" font-size="11.5" stroke="#111" stroke-width="0.28">0</text><text x="323" y="248.3" font-size="11.5" stroke="#111" stroke-width="0.28">0</text><text x="379.8" y="248.4" font-size="11.5" stroke="#111" stroke-width="0.28">10</text><text x="393.2" y="243" font-size="8.5" stroke="#111" stroke-width="0.28">3</text><text x="419.3" y="248.4" font-size="11.5" stroke="#111" stroke-width="0.28">10</text><text x="432.7" y="243" font-size="8.5" stroke="#111" stroke-width="0.28">4</text><text x="458.8" y="248.4" font-size="11.5" stroke="#111" stroke-width="0.28">10</text><text x="472.2" y="243" font-size="8.5" stroke="#111" stroke-width="0.28">5</text></g>
<g font-size="11.5" font-weight="bold"><text x="313.3" y="70" text-anchor="start" fill="#111" font-weight="bold" stroke="#111" stroke-width="0.2">2.89</text><text x="478.3" y="69.6" text-anchor="end" fill="#111" font-weight="bold" stroke="#111" stroke-width="0.2">52.5</text><text x="474.3" y="90" text-anchor="end" fill="#7e1c3c" font-weight="bold" stroke="#7e1c3c" stroke-width="0.2">18983</text><text x="471.3" y="171" text-anchor="end" fill="#34476e" font-weight="bold" stroke="#34476e" stroke-width="0.2">2402</text><text x="313.3" y="215.5" text-anchor="start" fill="#111" font-weight="bold" stroke="#111" stroke-width="0.2">31.2</text><text x="477.8" y="215.5" text-anchor="end" fill="#111" font-weight="bold" stroke="#111" stroke-width="0.2">13.4</text></g>
<g fill="none" stroke-width="0.7" stroke-opacity="1.0" stroke-linejoin="round"><path stroke="#5a5a5a" d="M158.7 360.2l-10 -.1 -1 -.2 -3 -.1 -3.7 -.5 -2.8 -.8 -2.7 -1.3 -1.8 -1.2 -2.2 -2.2 -1.5 -2.4 -1 -2.8 0 -4.2 .8 -2.8 1.4 -2.8 1.6 -2.2 2.2 -2.2 4.5 -3.1 4.7 -2.4 4.5 -1.8 7 -2.5 4.3 -1.7 22.7 -11.3 5 -2 5.8 -2 3.5 -1 5.2 -1 2 -.3 5 .1 1.8 .3 1.7 .6 2.8 1.8 1.9 2.5 1.1 2.3 .7 2.5 .4 1.7 0 4 -.5 3 -1.3 4 -2.2 4.5 -2.4 3.8 -2.2 2.7 -3.3 3.6 -3.7 3.2 -4.5 3.2 -3.3 1.9 -4.7 2.3 -3 1.3 -6 2 -7.8 1.8 -8.7 1.3 -2 0 -1 .2 -3.5 .1 -.8 .2z"/><path stroke="#575757" d="M162.5 357.6l-5 .2 -8 -.6 -6.2 -1.3 -3.3 -1.2 -1.8 -.9 -1.7 -1.4 -1.3 -1.5 -.8 -1.5 -.6 -1.8 -.1 -2 .3 -1.2 1.5 -3.6 1.3 -1.9 1.9 -2 2.8 -2.3 4 -2.3 4.5 -2.1 7 -2.6 7.2 -3 15.8 -7.6 7.7 -3.2 7.5 -2.4 5 -1.1 4.5 -.4 3.5 .1 1.8 .4 1.2 .6 1.4 1.1 1.6 2.5 1.1 3.5 .3 2.5 -.6 4.8 -1.8 5.5 -1.8 3.5 -2.3 3.5 -2.6 3 -3.8 3.3 -4.5 2.9 -3.2 1.8 -7.5 3.3 -5.8 1.9 -5.2 1.3 -7 1.4 -7 .8z"/><path stroke="#535353" d="M162.7 356.1l-5.2 .3 -6.3 -.8 -5.5 -1.4 -4.7 -2.1 -1.6 -1 -1 -1 -1 -1.2 -.5 -1.3 -.2 -1 .1 -1.2 1 -2.8 1.7 -2.6 2.7 -2.6 3 -2.3 2.5 -1.4 3.8 -1.9 13.7 -5.4 12.9 -6 6.9 -2.9 5 -1.9 4 -1.2 2 -.6 4.7 -.8 4.5 -.2 2.8 .2 1.5 .4 1 .9 1.4 2.3 .6 1.8 .3 1.7 0 4.3 -.6 3.2 -1.3 4 -2 4 -2.7 3.8 -2.7 2.5 -2.8 2.1 -4.7 2.7 -5.5 2.6 -3.5 1.4 -5.5 1.8 -5.3 1.4 -7 1.4 -6.5 .8z"/><path stroke="#505050" d="M158 355.2l-2.5 -.3 -3.5 -.7 -2 -.5 -3.8 -1.5 -4 -2.1 -1.5 -1.2 -.9 -1 -.5 -1 0 -1 .5 -1.8 .8 -1.5 2.7 -3.2 2.6 -2.3 3.6 -2.3 3.2 -1.7 13 -5.1 15.8 -7 9.2 -3.5 5.5 -1.5 5 -.8 4.5 0 2.3 .4 .7 .5 1.4 2.8 .6 3.2 0 3.3 -.6 3.7 -1.3 4 -1.6 3 -2 2.8 -2.5 2.3 -2.7 1.9 -6 3.3 -6.3 2.7 -5.7 1.9 -6 1.6 -7 1.5 -7 1 -4 .1z"/><path stroke="#4c4c4c" d="M162.7 353.9l-1.7 .2 -4.3 -.1 -3.5 -.8 -3.2 -1.2 -3.8 -2 -4 -3 -.5 -.6 -.1 -.5 .7 -1.8 1.9 -2.7 2.1 -2.3 2.5 -2 3.3 -2 4.1 -1.8 10.3 -4 15.5 -6.7 9.2 -3.3 5.5 -1.5 2.8 -.4 3 -.2 3.2 .2 1.4 .5 .9 2 .7 3.5 .1 3.7 -.4 2.8 -.7 2.5 -1.4 3.2 -1.7 2.5 -2.4 2.3 -2.7 1.9 -4.5 2.4 -5.5 2.5 -3.8 1.4 -5 1.6 -7 1.8 -6.7 1.3 -4.3 .6z"/><path stroke="#494949" d="M163 352.9l-1.8 .2 -4 -.1 -2.2 -.5 -2.3 -.8 -2.5 -1.3 -3.5 -2.5 -2.4 -2.3 -.1 -.7 2 -3 3 -3 3.6 -2.5 3.9 -1.9 10.3 -4 15.2 -6.3 9.5 -3.3 4.3 -1.2 3.7 -.5 3.3 0 2 .2 .5 .2 1 2.8 .5 2.5 .2 2.7 -.4 3.5 -.6 2.3 -1 2.2 -1.4 2 -2.1 2.1 -2.5 1.7 -4.7 2.5 -9 3.7 -6.3 1.9 -5.7 1.5 -6.8 1.4 -3.7 .5z"/><path stroke="#454545" d="M162 352.2l-2.3 .1 -2.5 -.2 -2 -.6 -1.9 -.9 -2.6 -1.6 -1.7 -1.6 -2.2 -2.5 .1 -.8 2.1 -2.8 2.2 -2.2 2.9 -2 3.4 -1.5 25.2 -10 9 -3.1 3.8 -1.1 3.2 -.4 3.8 -.1 1 .2 .3 .3 .9 2 .8 2.8 .2 2.4 -.1 2.5 -.6 2.8 -.8 1.7 -1 1.5 -2.2 2.2 -2.3 1.4 -4.5 2.3 -9.5 3.8 -5.7 1.8 -5.8 1.5 -6.5 1.3 -4.7 .8z"/><path stroke="#424242" d="M161.2 351.4l-4 -.3 -2.5 -1 -1.5 -1 -1.5 -1.2 -1.1 -1.3 -1.2 -1.7 -.3 -.5 0 -.5 .8 -1.3 1.8 -2.1 2 -1.6 1.8 -1.1 2.5 -1.2 25 -9.7 5.5 -1.9 6.5 -1.9 2 -.4 4 -.2 .8 .1 .4 .5 1.1 2 .8 2.3 .4 2.2 0 2.3 -.5 2 -1 2.2 -2.5 2.6 -2 1.2 -4.8 2.4 -9.5 3.7 -5.7 1.8 -7.3 1.8 -6.5 1.3 -3.5 .5z"/><path stroke="#3e3e3e" d="M162.5 350.4l-2.5 .2 -2.3 -.2 -1.7 -.7 -1.6 -1.1 -1.9 -2 -1.4 -2.5 .1 -.7 1.1 -1.5 1.4 -1.5 1.4 -1 3.1 -1.7 19 -7.3 11.8 -4.1 6.7 -1.9 3.5 -.4 1 .2 1.8 2.2 .8 1.7 .5 1.8 .2 1.7 -.3 2 -.7 1.8 -.7 1 -1.5 1.5 -1.6 1 -7.2 3.5 -6.8 2.5 -4 1.3 -9.7 2.6 -8.5 1.6z"/><path stroke="#3b3b3b" d="M162.5 349.6l-3 .3 -2.3 -.6 -2.1 -1.4 -1.4 -2 -.8 -2 .1 -.8 1.7 -2 2.5 -1.7 6.8 -2.7 19.7 -7.3 5.8 -1.9 6.2 -1.7 1.8 -.3 1 .2 1.7 1.3 1.5 2 .6 1.4 .2 1.5 0 1.2 -.4 1.5 -.6 1.1 -1.3 1.4 -2.2 1.4 -6.8 3.1 -10.7 3.8 -9.8 2.6 -8.2 1.6z"/><path stroke="#373737" d="M160.7 349.1l-2 -.1 -1.9 -.9 -1.4 -1.5 -.8 -2 -.1 -1.2 .6 -1 1.9 -1.6 2 -1.1 21.5 -8 9.2 -3 4.8 -1.3 1.7 -.2 2.5 .8 1.5 1.1 1 1.5 .4 1.3 .1 1.2 -.3 1.3 -.5 1 -1.7 1.6 -4 2.1 -8 3.2 -9.5 3.1 -9.2 2.3 -4.3 .9 -3.5 .5z"/><path stroke="#343434" d="M161.2 348.4l-1.7 0 -1.5 -.5 -1.4 -1.3 -.6 -1.5 0 -1.5 .4 -1 1.5 -1.2 1.8 -.9 18.5 -6.8 13.3 -4.2 1.7 -.4 1.5 0 1.8 0 1.2 .2 1.8 .8 1.1 1.5 .3 1 -.1 1.3 -.4 1 -.7 .9 -2 1.4 -4.7 2.1 -9 3.3 -6.5 2 -8.3 2.2 -8 1.6z"/><path stroke="#303030" d="M161.5 347.7l-1.8 0 -1 -.2 -1 -.9 -.6 -1.2 0 -1.3 .7 -1.2 .7 -.8 1.7 -.8 18.5 -6.7 7.8 -2.5 3.7 -.9 6.8 -.7 2 .6 .6 .5 .4 .8 .2 1 -.1 .7 -1.1 1.6 -1.7 .9 -4.6 2.1 -9.5 3.4 -6 1.8 -7.2 2 -8.5 1.8z"/><path stroke="#2d2d2d" d="M161.7 346.9l-1.7 .2 -1.3 -.5 -.4 -.5 -.3 -.7 .3 -1.3 .8 -1 1.2 -.7 4.9 -2 16.3 -5.6 9 -2.3 6.5 -.9 1.5 .3 .7 .5 .3 .5 -.1 1.2 -1.1 1.3 -5.8 2.6 -9.5 3.4 -6 1.8 -7 1.9 -6 1.5 -2.3 .3z"/><path stroke="#292929" d="M161 346.4l-1.3 0 -.7 -.5 -.1 -1 .8 -1 1.3 -.7 6 -2.4 12.2 -4.1 11.8 -3.2 6 -1 1.2 .1 .6 .5 .1 .5 -.1 .5 -.8 .8 -3.5 1.6 -3.8 1.5 -8 2.7 -6 1.8 -7 2 -8.7 1.9z"/><path stroke="#262626" d="M161 345.7l-1 .1 -.4 -.4 .5 -.8 1.1 -.6 4.7 -1.9 10.3 -3.5 9.3 -2.7 6.7 -1.7 5 -1 .8 .1 .3 .3 -.8 .9 -3.3 1.4 -11.7 4.1 -13 3.8 -6 1.5 -2.5 .4z"/></g><clipPath id="cBL"><path d="M120 352 L230 313 L230 370 L120 370Z"/></clipPath><g clip-path="url(#cBL)"><g fill="none" stroke-width="0.5" stroke-opacity="1.0" stroke-linejoin="round"><path stroke="#888888" d="M158.7 360.2l-10 -.1 -1 -.2 -3 -.1 -3.7 -.5 -2.8 -.8 -2.7 -1.3 -1.8 -1.2 -2.2 -2.2 -1.5 -2.4 -1 -2.8 0 -4.2 .8 -2.8 1.4 -2.8 1.6 -2.2 2.2 -2.2 4.5 -3.1 4.7 -2.4 4.5 -1.8 7 -2.5 4.3 -1.7 22.7 -11.3 5 -2 5.8 -2 3.5 -1 5.2 -1 2 -.3 5 .1 1.8 .3 1.7 .6 2.8 1.8 1.9 2.5 1.1 2.3 .7 2.5 .4 1.7 0 4 -.5 3 -1.3 4 -2.2 4.5 -2.4 3.8 -2.2 2.7 -3.3 3.6 -3.7 3.2 -4.5 3.2 -3.3 1.9 -4.7 2.3 -3 1.3 -6 2 -7.8 1.8 -8.7 1.3 -2 0 -1 .2 -3.5 .1 -.8 .2z"/><path stroke="#868686" d="M159 359.7l-1 .1 -9 -.1 -1.3 -.3 -3 -.1 -3.5 -.6 -2.7 -.8 -2.6 -1.3 -1.8 -1.2 -1.7 -1.8 -1.7 -2.5 -.9 -2.7 -.1 -3.8 .9 -2.7 1.3 -2.8 1.7 -2.2 1.9 -2 4.2 -3 4.8 -2.5 16 -6.1 7.2 -3.5 11.3 -5.7 7.5 -3.3 3.5 -1.4 7.2 -2.1 7 -1.2 5 0 1.5 .3 2.3 .9 2 1.4 1.5 1.9 .8 1.5 1.3 3.5 .3 1.8 .1 3.7 -.5 2.8 -1.2 4 -2.1 4.5 -2.6 4 -1.9 2.5 -3.2 3.5 -3.8 3.2 -4.5 3.2 -2.7 1.6 -4.8 2.3 -3.5 1.5 -6 2 -7.7 1.8 -8.8 1.3 -6.7 .4z"/><path stroke="#848484" d="M158.5 359.2l-9.3 -.3 -6.2 -.8 -4.3 -1.3 -2.2 -1.1 -2 -1.5 -1.6 -1.8 -1.4 -2.8 -.5 -1.7 -.1 -2.8 .8 -2.7 1.2 -2.5 1.5 -2.3 1.7 -1.7 4.1 -3.1 4.5 -2.5 4.6 -1.9 6.9 -2.5 4.5 -1.8 7.5 -3.5 11 -5.6 7.5 -3.2 4.3 -1.6 6.5 -1.9 3.5 -.6 3.7 -.5 4.3 .1 1.7 .4 1.8 .7 1.5 1.1 .8 .9 1.8 3 .8 2.5 .4 1.7 .1 3.5 -.9 5 -2.3 5.6 -2.5 4.2 -4 5 -3.2 3 -4.5 3.4 -4.3 2.5 -6.7 3.2 -6.8 2.3 -5.7 1.5 -7.3 1.4 -7 .8 -3.5 0 -.7 .2z"/><path stroke="#818181" d="M162.5 358.4l-4.8 .2 -8.5 -.4 -1.2 -.4 -2.8 -.2 -3.5 -.8 -2.5 -.9 -2 -1 -1.7 -1.4 -1.5 -1.7 -1.1 -1.9 -.7 -2 0 -2.5 .2 -1.3 .5 -1.5 1.3 -2.7 1.5 -2 2.3 -2.2 3 -2.2 4 -2.3 4.7 -2.1 11.3 -4.2 7.5 -3.5 11.1 -5.5 8.9 -3.7 6 -2 3 -.7 3.7 -.7 3.5 -.4 4 .1 1.8 .4 1.5 .7 1.8 1.5 1.7 2.8 1.2 4 .2 3 -.7 4.7 -2 5.5 -2 3.5 -2.5 3.7 -2.7 3.1 -4 3.4 -4.3 2.9 -3.2 1.8 -7.6 3.4 -5.9 2 -5.3 1.3 -7 1.3 -7.2 .9z"/><path stroke="#7f7f7f" d="M158.5 357.9l-2.3 .1 -5 -.4 -5.7 -.9 -3.8 -1 -2 -.8 -1.9 -1 -1.6 -1.3 -1.4 -1.7 -.9 -1.8 -.5 -1.5 0 -2 .5 -2.2 1 -2.3 1.3 -2 1.3 -1.5 4 -3.2 5.2 -3 3.3 -1.4 11.2 -4.4 18.8 -8.8 5.7 -2.5 5.3 -1.9 6.7 -1.9 3.8 -.6 3.5 -.3 3.5 .1 1.7 .5 1.5 .7 1.3 1.2 1.7 3 .9 3.3 .2 2.2 -.2 2.8 -.8 3.7 -1.5 4 -2.1 4 -1.9 2.8 -2.1 2.5 -2.7 2.5 -4.8 3.5 -4.2 2.4 -6.5 3 -6 2.1 -6.3 1.6 -7.2 1.4 -7 .9 -4 .1z"/><path stroke="#7d7d7d" d="M158 357.4l-7.3 -.6 -5.2 -1 -3.5 -1.1 -1.9 -.8 -1.7 -1 -1.4 -1.2 -1.2 -1.6 -.8 -1.5 -.3 -1.2 -.1 -1.8 .4 -1.7 .9 -2 2.3 -3.4 3.9 -3.4 3.4 -2 2.7 -1.4 13.5 -5.4 18.5 -8.6 9.3 -3.7 5.5 -1.8 3 -.6 3.5 -.6 3.5 -.3 3.2 .3 1.5 .3 1.3 .6 1.2 1.2 1.6 2.8 .6 2.2 .3 1.8 -.1 3.2 -.6 3.8 -1.3 3.7 -2.1 4.3 -1.8 2.7 -1.9 2.3 -2.9 2.8 -4.5 3.2 -4.3 2.4 -6.5 2.9 -6.5 2.2 -5.7 1.5 -7 1.4 -7.3 .9 -4.2 .2z"/><path stroke="#7b7b7b" d="M162.2 356.6l-5.2 .2 -7 -.9 -4.5 -1.1 -3.3 -1.2 -2 -.9 -1.2 -.9 -1.3 -1.2 -1 -1.3 -.7 -1.7 -.1 -1.2 .1 -1.3 1.2 -3.2 1.8 -2.5 2.7 -2.6 2.7 -1.9 2.9 -1.8 3.7 -1.7 13.8 -5.5 12.9 -6 8.8 -3.7 8.7 -2.9 6.5 -1.2 3.5 -.2 3 .3 1.8 .5 1.1 .9 1.5 2.5 .7 2 .3 1.8 0 3.2 -.5 3.5 -1 3.5 -2 4.3 -1.7 2.7 -2 2.5 -2.6 2.5 -2.8 2.1 -4.8 2.9 -5.7 2.7 -3.5 1.4 -5.5 1.8 -5 1.3 -7 1.4 -7.3 .9z"/><path stroke="#787878" d="M158.2 356.2l-2.5 -.1 -3.7 -.6 -2.3 -.4 -3.7 -1.2 -5 -2.2 -1.5 -1 -1.1 -1.1 -.8 -1.2 -.5 -1.5 .1 -1.5 .5 -1.8 1.9 -3.2 3.6 -3.5 3.3 -2.2 4.5 -2.4 14.2 -5.7 15.8 -7.2 9.2 -3.5 5.8 -1.7 6 -1 3.2 -.1 2.8 .3 1.5 .5 .8 .7 1.3 2.3 .6 1.7 .3 1.8 0 4.2 -.9 4.3 -1.7 4.5 -2 3.5 -2.2 2.7 -2.4 2.3 -4.6 3.1 -4.2 2.3 -6.3 2.7 -6 2.1 -6 1.6 -7 1.4 -7 1 -4 .1z"/><path stroke="#767676" d="M162.5 355.4l-5 .2 -5 -.7 -2.5 -.6 -3.8 -1.3 -3.5 -1.6 -2.7 -1.9 -1.4 -1.9 -.2 -.7 0 -1 .8 -2.5 1.4 -2.3 2.9 -3 3.2 -2.4 2.6 -1.6 3.7 -1.7 12.6 -5 13.4 -6.1 6.2 -2.5 7.8 -2.7 3 -.9 3 -.5 3.2 -.3 3.3 -.1 2.7 .4 1 .6 1.1 1.8 .6 1.5 .4 1.8 .2 4 -.8 4.7 -1.5 4.3 -1.7 3 -2 2.7 -2.3 2.1 -2.9 2.2 -4.6 2.6 -5.7 2.6 -3.5 1.4 -5.3 1.7 -5.2 1.4 -6.8 1.4 -6.7 .9z"/><path stroke="#747474" d="M162 354.9l-4.8 .1 -4.2 -.7 -3 -.9 -3.8 -1.5 -2.2 -1.2 -3 -2.1 -.8 -.8 -.5 -.9 -.1 -.8 .2 -.7 1.2 -2.7 1.8 -2.3 2.3 -2.3 2.3 -1.7 4.1 -2.4 14.5 -5.9 13.5 -6 6.2 -2.5 7.8 -2.6 5.5 -1.2 3.2 -.3 3.3 .1 2.2 .3 .7 .5 1.3 2.5 .6 3.2 .1 3.3 -.5 3.5 -1.3 4 -1.6 3.2 -1.8 2.5 -2.5 2.4 -2.7 1.9 -4.5 2.6 -5.5 2.5 -3.8 1.4 -5.2 1.7 -7.3 1.9 -6.7 1.2 -5 .7z"/><path stroke="#727272" d="M163 354.1l-1.5 .3 -4.5 -.1 -3.5 -.7 -3.5 -1.1 -3.8 -1.9 -4 -2.7 -1.3 -1.5 .3 -1.5 1.3 -2.3 2.5 -2.9 2.6 -2.3 4.1 -2.5 4.3 -2 10.3 -4 13.7 -6 9.7 -3.7 6.8 -1.9 3 -.5 3.2 -.1 3.3 .2 1.2 .2 .4 .3 1.1 2.5 .6 3.2 0 3 -.4 3.3 -.9 3.2 -1.5 3.3 -1.8 2.5 -2.2 2.1 -2.8 1.9 -4.5 2.5 -5.5 2.5 -3.7 1.4 -5 1.7 -5.3 1.3 -6.7 1.5 -6 .8z"/><path stroke="#707070" d="M162.5 353.6l-1.8 .2 -4 -.1 -3.2 -.8 -3.3 -1.3 -4 -2.3 -3.3 -2.7 -.6 -.7 .5 -1.5 2.1 -3 1.9 -2 2.4 -1.9 3.3 -2.1 3.9 -1.8 10.3 -4 15.3 -6.5 9.2 -3.3 5.5 -1.5 3 -.4 3 -.1 3.3 .3 .7 .5 .6 1 .5 1.8 .5 3 -.1 3.5 -.4 2.7 -.6 2 -1.3 3 -1.5 2.3 -2.3 2.2 -2.6 1.8 -4.8 2.6 -9 3.8 -6.2 1.9 -6 1.5 -6.5 1.3 -4.5 .6z"/><path stroke="#6d6d6d" d="M162 353.1l-5 0 -2.5 -.6 -2.5 -1 -1.8 -.9 -3.7 -2.6 -2.5 -2.4 0 -.7 2 -3 2.6 -2.8 4.1 -2.8 4 -1.9 10.3 -4 15.2 -6.3 9.5 -3.4 4.3 -1.1 3.7 -.6 4.3 .1 1.2 .2 .5 .3 1 2.8 .5 2.7 .1 2.8 -.4 3.5 -.7 2.2 -.9 2 -1.4 2 -2.2 2.2 -2.5 1.7 -4.7 2.5 -9.3 3.7 -6 1.9 -5.7 1.5 -6.8 1.3 -4.7 .7z"/><path stroke="#6b6b6b" d="M162.7 352.4l-2 .2 -3.5 -.1 -3.7 -1.2 -2.6 -1.4 -1.6 -1.3 -2.8 -2.5 -.8 -1 0 -.5 2 -3 2.5 -2.5 3.2 -2.2 3.8 -1.8 10.2 -4 15.1 -6.1 9.5 -3.3 3.7 -1 3.3 -.5 3.5 0 1.7 .2 .4 .2 1 2.5 .6 3 .1 2.5 -.2 2.5 -.5 2.3 -1 2.2 -1.1 1.8 -2.1 2 -2.4 1.6 -4.8 2.4 -9.2 3.8 -6 1.8 -5.8 1.5 -6.5 1.3 -4 .6z"/><path stroke="#696969" d="M162.2 351.9l-2.2 .2 -2.8 -.2 -3.3 -1.3 -2.1 -1.2 -1.6 -1.3 -2.8 -3.2 0 -.8 1.8 -2.6 2.2 -2.1 2.8 -2 3.3 -1.5 25.2 -10 9 -3.1 3.8 -1 3 -.5 3.7 0 .8 .1 .5 .4 1 2.3 .6 2.3 .3 2.7 -.1 2.3 -.5 2.5 -.9 1.7 -.9 1.5 -2 1.9 -2.3 1.5 -4.7 2.4 -9.3 3.7 -6 1.8 -5.5 1.4 -6.5 1.4 -4.5 .7z"/><path stroke="#676767" d="M161.7 351.4l-4 -.1 -2.7 -.9 -1.7 -1 -1.5 -1.3 -1.2 -1.2 -1.1 -1.5 -.6 -1.3 .3 -.7 2 -2.5 2.3 -2 2 -1.2 2.5 -1.2 23.7 -9.2 6.8 -2.4 4.2 -1.3 4 -1 4 -.2 1 .1 .6 .4 1.2 2.2 .7 2.3 .4 2.2 -.1 2.3 -.4 2 -1.1 2.2 -2.5 2.6 -2 1.3 -4.8 2.4 -9.5 3.7 -5.7 1.7 -5.5 1.5 -6.3 1.3 -5 .8z"/><path stroke="#656565" d="M161 350.9l-3.5 -.3 -2.3 -1 -2.5 -2 -1.2 -1.5 -.9 -1.5 -.2 -1 1 -1.5 1.7 -1.7 2.1 -1.6 3 -1.5 19 -7.3 7.5 -2.8 7.8 -2.5 3.7 -.9 3.8 -.3 1 .3 1 1.4 1 1.9 .6 2 .2 2.3 -.2 2 -.5 1.5 -.9 1.4 -1.7 1.8 -1.5 1 -7.3 3.5 -6.8 2.5 -4.2 1.4 -9.7 2.6 -6.5 1.3 -3.5 .5z"/><path stroke="#626262" d="M162.2 350.1l-3 .2 -2.6 -.7 -1.2 -.7 -1.2 -1 -1.8 -2.5 -.6 -1.5 .2 -.8 2 -2.2 2.5 -1.8 5 -2.2 22 -8.2 5.7 -2 6.3 -1.7 2.7 -.4 1.1 0 1.4 1.3 1.3 1.8 .6 1.4 .4 1.8 .1 1.7 -.3 1.3 -.6 1.5 -.7 1 -1.3 1.2 -1.7 1.2 -7 3.2 -6.8 2.5 -4.2 1.4 -9.5 2.6 -8.8 1.6z"/><path stroke="#606060" d="M161.7 349.7l-2.7 0 -2.3 -.8 -1.8 -1.5 -1.2 -2 -.5 -1.8 .2 -.7 1.6 -1.8 2.5 -1.6 6.5 -2.7 19.7 -7.2 5.8 -1.9 6.2 -1.7 1.8 -.2 1.2 .5 1.8 1.4 1.2 1.7 .5 1.2 .2 1.5 -.1 1.3 -.4 1.2 -.5 1 -1.2 1.3 -2.2 1.5 -6.8 3.1 -10.7 3.7 -9.8 2.7 -9 1.8z"/><path stroke="#5e5e5e" d="M161.2 349.1l-2.2 0 -2 -.8 -1.4 -1.4 -1 -2 -.1 -1.5 .3 -.8 1.9 -1.7 2 -1.1 21.8 -8.1 9.2 -3.1 4.8 -1.2 1.7 -.3 2.3 .7 1.7 1.3 1.1 1.5 .4 1.3 0 1.2 -.3 1.3 -.5 1 -1.7 1.7 -4 2 -8 3.2 -7 2.3 -9.7 2.7 -9.3 1.8z"/><path stroke="#5c5c5c" d="M162 348.4l-2.3 .2 -1.5 -.4 -1.5 -1.1 -.8 -1.5 -.3 -1.5 .3 -1.2 1.6 -1.5 2 -1.1 18.7 -6.9 7.8 -2.6 7 -2 3.2 -.1 2 .4 1.5 .9 1 1.4 .3 1 0 1.2 -.3 1 -.4 .8 -1.4 1.2 -3.9 2 -7.8 3 -7.2 2.5 -9.8 2.6 -8.2 1.7z"/><path stroke="#595959" d="M161.5 347.9l-1.8 .1 -1.2 -.4 -1.2 -1 -.6 -1.2 0 -1.3 .5 -1.2 1 -1 1.8 -.9 18.5 -6.7 11.7 -3.7 3.5 -.4 3.3 -.1 2 .5 .7 .6 .6 .9 .2 1 -.1 1 -.4 .8 -1 1 -1.5 .9 -4.5 2 -9.3 3.4 -6.5 2 -8 2.1 -7.7 1.6z"/><path stroke="#575757" d="M161 347.4l-1.5 0 -1 -.5 -.9 -1.3 0 -1.2 .5 -1 1 -1 3.9 -1.7 12.5 -4.4 11.2 -3.7 4.8 -.9 5.2 -.6 2 .4 .6 .4 .5 .7 .1 .8 -.1 .7 -.5 .8 -.8 .7 -5.8 2.7 -9.7 3.5 -5.8 1.7 -7.2 2 -6 1.4 -3 .5z"/><path stroke="#555555" d="M161.7 346.7l-1.7 .2 -1 -.4 -.6 -.9 .1 -1.2 .9 -1 1.1 -.7 5 -2.1 16 -5.4 9.2 -2.3 6.3 -.9 1.5 .2 .7 .8 0 1.1 -1 1.1 -5.7 2.6 -9.8 3.4 -5.7 1.7 -7.1 2 -6.2 1.5 -2 .3z"/></g></g>
<rect x="86.5" y="264.5" width="176" height="175.5" fill="none" stroke="#555" stroke-width="1.2"/>
<path d="M81.5 399.8H86.5M81.5 358.3H86.5M81.5 319.3H86.5M81.5 280.3H86.5M83.5 387.3H86.5M83.5 380H86.5M83.5 374.8H86.5M83.5 370.8H86.5M83.5 367.5H86.5M83.5 364.7H86.5M83.5 362.3H86.5M83.5 360.2H86.5M83.5 346.6H86.5M83.5 339.7H86.5M83.5 334.8H86.5M83.5 331H86.5M83.5 328H86.5M83.5 325.3H86.5M83.5 323.1H86.5M83.5 321.1H86.5M83.5 307.6H86.5M83.5 300.7H86.5M83.5 295.8H86.5M83.5 292H86.5M83.5 289H86.5M83.5 286.3H86.5M83.5 284.1H86.5M83.5 282.1H86.5M83.5 268.6H86.5M83.7 403H86.5M83.7 405.7H86.5M83.7 410H86.5M83.7 412.3H86.5M83.7 414.5H86.5M83.7 416.5H86.5M83.7 425H86.5M83.7 427H86.5M83.7 429.5H86.5M83.7 432.5H86.5M83.7 435.5H86.5M83.7 438.5H86.5M167.4 440V445M206.9 440V445M246.4 440V445M179.3 440V443M186.2 440V443M191.2 440V443M195 440V443M198.1 440V443M200.8 440V443M203.1 440V443M205.1 440V443M218.8 440V443M225.7 440V443M230.7 440V443M234.5 440V443M237.6 440V443M240.3 440V443M242.6 440V443M244.6 440V443M258.3 440V443M89 440V442.8M91.5 440V442.8M94 440V442.8M96.5 440V442.8M99 440V442.8M101 440V442.8M110 440V442.8M112 440V442.8M114.5 440V442.8M117 440V442.8M119.5 440V442.8M122 440V442.8M124.5 440V445M137 440V443M142.5 440V443M147 440V443M151.7 440V443M154.8 440V443M158.6 440V443M161 440V443M163.5 440V443M165.5 440V443" stroke="#111" stroke-width="0.9" fill="none"/>
<rect x="82.1" y="418.5" width="4.3" height="4.4" fill="#000"/>
<rect x="103" y="440.6" width="5" height="3.8" fill="#000"/>
<path d="M157.7 264.5V440M86.5 322.8H262.5" stroke="#111" stroke-width="1.4" fill="none"/>
<line x1="86.5" y1="367.2" x2="262.5" y2="305.7" stroke="#000" stroke-width="2.9" stroke-dasharray="2.9 3.14" stroke-dashoffset="-1.6"/>
<g fill="#111"><text x="58.2" y="287.7" font-size="11.5" stroke="#111" stroke-width="0.28">10</text><text x="72" y="282.8" font-size="8.5" stroke="#111" stroke-width="0.28">5</text><text x="58.2" y="326.7" font-size="11.5" stroke="#111" stroke-width="0.28">10</text><text x="72" y="321.9" font-size="8.5" stroke="#111" stroke-width="0.28">4</text><text x="58.2" y="366.4" font-size="11.5" stroke="#111" stroke-width="0.28">10</text><text x="72" y="361.4" font-size="8.5" stroke="#111" stroke-width="0.28">3</text><text x="58.2" y="408.2" font-size="11.5" stroke="#111" stroke-width="0.28">10</text><text x="72" y="403.3" font-size="8.5" stroke="#111" stroke-width="0.28">2</text><text x="64.4" y="426.5" font-size="11.5" stroke="#111" stroke-width="0.28">0</text><text x="103.7" y="462.7" font-size="11.5" stroke="#111" stroke-width="0.28">0</text><text x="159.8" y="462.8" font-size="11.5" stroke="#111" stroke-width="0.28">10</text><text x="173.2" y="457.4" font-size="8.5" stroke="#111" stroke-width="0.28">3</text><text x="199.3" y="462.8" font-size="11.5" stroke="#111" stroke-width="0.28">10</text><text x="212.7" y="457.4" font-size="8.5" stroke="#111" stroke-width="0.28">4</text><text x="238.8" y="462.8" font-size="11.5" stroke="#111" stroke-width="0.28">10</text><text x="252.2" y="457.4" font-size="8.5" stroke="#111" stroke-width="0.28">5</text></g>
<g font-size="11.5" font-weight="bold"><text x="92" y="285" text-anchor="start" fill="#111" font-weight="bold" stroke="#111" stroke-width="0.2">0.58</text><text x="256.3" y="284.2" text-anchor="end" fill="#111" font-weight="bold" stroke="#111" stroke-width="0.2">16.7</text><text x="246" y="308" text-anchor="end" fill="#7e1c3c" font-weight="bold" stroke="#7e1c3c" stroke-width="0.2">5922</text><text x="245.3" y="389" text-anchor="end" fill="#34476e" font-weight="bold" stroke="#34476e" stroke-width="0.2">3590</text><text x="92.5" y="430" text-anchor="start" fill="#111" font-weight="bold" stroke="#111" stroke-width="0.2">15.3</text><text x="256.3" y="430" text-anchor="end" fill="#111" font-weight="bold" stroke="#111" stroke-width="0.2">67.4</text></g>
<g fill="none" stroke-width="0.7" stroke-opacity="1.0" stroke-linejoin="round"><path stroke="#5a5a5a" d="M369 360.6l-5.2 .1 -4 -.6 -3.8 -1.1 -2.7 -1.2 -3.3 -2.2 -2.1 -2.3 -1.2 -1.7 -.6 -1.8 -.1 -3 .9 -2.7 1.5 -2.8 4.1 -5.2 9.5 -9.4 3.8 -3.2 6 -4.2 3.5 -2 3.7 -1.6 3.5 -1 1.8 -.2 2.2 -.1 1 -.2 1 .2 3 0 11 1.4 3.3 0 1.5 .3 .7 -.2 2.8 -.1 1.5 -.2 6 -1.5 5.2 -.9 4.3 0 2.2 .6 2.3 1.2 1.2 .9 2.3 2.5 1.3 3.2 .3 1.5 0 2 -.8 3.7 -1.5 4 -2.7 4.5 -1.9 2.5 -3 3 -5 3.7 -4.2 2.4 -5.5 2.4 -4.3 1.5 -8 2.3 -9.2 2.2 -6.3 1.3 -8.2 1.3 -4.8 .5 -2.2 0 -.8 .2z"/><path stroke="#575757" d="M368.8 358.4l-4.3 .2 -2.7 -.3 -3.5 -.8 -3 -1.3 -2.8 -1.9 -2.2 -2.2 -1.3 -2.3 -.2 -1 0 -1.5 .7 -2.5 1 -2 2.3 -3.2 2 -2.3 9 -8 4 -3 6 -3.8 3.3 -1.7 3.2 -1.3 4.7 -1.1 5.8 -.3 11.2 .8 5.3 0 4.2 -.3 7.5 -1.3 5 -.5 3 .3 1.5 .5 2.5 1.7 1.4 1.8 .9 2.7 -.1 2.3 -.8 3.7 -1.3 3.5 -2.9 4.8 -2.2 2.4 -3.2 2.8 -3 2 -2.5 1.3 -5.5 2.3 -3.8 1.3 -8.2 2.4 -9 2.2 -6.5 1.4 -10.3 1.7 -5.2 .5z"/><path stroke="#535353" d="M368.5 357.1l-3.7 .2 -2.8 -.3 -3.5 -.8 -2.5 -1.2 -2.5 -1.8 -1.9 -2.1 -.9 -1.8 -.3 -1.7 .5 -2 1 -2 2 -3 2.1 -2.4 3.3 -2.9 5.7 -4.5 4 -2.8 3.8 -2.2 4 -2.2 5 -2 3.7 -.8 4.5 -.3 11.8 .3 4.7 0 5 -.5 7.3 -.9 5.5 -.1 2.2 .4 1 .3 1.8 1.3 .8 1 .6 1.8 -.1 3.2 -.8 3.3 -1.5 3.7 -1.6 2.8 -1.8 2.2 -3.1 2.9 -2.8 1.8 -2.2 1.2 -5.5 2.3 -6.8 2.2 -7 1.9 -13.5 3.1 -8.2 1.5 -7.3 .9z"/><path stroke="#505050" d="M367.8 356.1l-3 .1 -2.5 -.2 -2.3 -.5 -2.5 -1 -2.5 -1.7 -1.7 -1.7 -1.3 -2.3 -.1 -1.5 .5 -1.7 1.5 -2.8 1.1 -1.6 2.3 -2.4 2.7 -2.3 6 -4.4 7.8 -4.7 4 -2.1 4.5 -1.7 3.5 -.8 4.2 -.4 16.3 -.1 10.5 -1.1 3 -.1 3.7 .2 1.8 .3 1.5 .5 1.4 1.2 .2 .8 .2 1.2 -.2 3 -.7 3 -1.3 3.3 -1.7 2.7 -1.9 2.3 -2.3 2 -2.2 1.4 -4.8 2.3 -5.7 2 -12.5 3.6 -6.5 1.5 -9.3 1.9 -11.7 1.8z"/><path stroke="#4c4c4c" d="M367.8 355.1l-2.8 .2 -2.7 -.2 -2.1 -.5 -2.2 -1 -2.5 -1.8 -1.6 -2 -.8 -1.7 .3 -1.5 1.1 -2.6 1.3 -1.9 2.8 -3 8.4 -5.9 7.5 -4.3 4 -2 4.3 -1.6 3 -.7 4 -.4 12.2 -.3 15.5 -1.2 2.5 0 3.8 .6 2 .5 .6 .5 .2 2.3 -.3 3.5 -.7 2.5 -1.1 2.5 -1.2 2 -1.5 1.8 -2.2 1.9 -2.1 1.4 -4.2 2 -6 2.1 -12.3 3.5 -6.5 1.6 -9.2 1.9 -11.5 1.8z"/><path stroke="#494949" d="M366 354.3l-3.2 0 -1.8 -.4 -2 -.8 -1.7 -1.1 -1.7 -1.7 -1.2 -2 0 -1 .4 -1.5 .9 -1.7 1 -1.5 1.8 -2 1.2 -1 8.1 -5.3 7.5 -4.1 4.2 -1.9 3.8 -1.4 2.7 -.7 3.8 -.4 11.5 -.6 12 -1.1 3 -.1 4.2 .4 2.5 .6 1.6 .6 .2 2.2 -.3 3 -.9 3.3 -.9 1.7 -1.4 2.1 -1.7 1.7 -2.1 1.4 -2.2 1.2 -8.8 3.3 -8 2.3 -8.2 2.1 -15 3.2 -9.3 1.2z"/><path stroke="#454545" d="M365.3 353.6l-2.5 -.1 -1.8 -.4 -1.7 -.8 -1.8 -1.3 -1.2 -1.5 -.9 -1.7 .3 -1.2 .7 -1.8 1.1 -1.7 1.4 -1.5 2.1 -1.8 7.8 -4.7 8 -4 6 -2.4 3.7 -1 5.5 -.6 13.8 -1 7.5 -.9 2.7 0 2.8 .3 3.2 .9 .8 .3 .3 .4 .1 2 -.2 2.5 -.5 2 -.9 2 -1.2 1.7 -1.6 1.7 -1.8 1.2 -2 1.1 -8.7 3.2 -8 2.3 -10 2.6 -13 2.8 -7.8 1.2 -2.2 .2z"/><path stroke="#424242" d="M367.5 352.6l-2.5 .2 -2.2 -.1 -1.8 -.4 -1.5 -.8 -1.6 -1.4 -1.3 -2 -.1 -.8 .6 -1.7 1.4 -2.3 1.4 -1.5 1.4 -1 8.2 -4.7 6.3 -3 5 -2.2 3.5 -1.2 3 -.6 4.7 -.6 22.3 -2.3 2 .1 2 .4 2.2 .8 1 .6 .2 2 -.2 2.2 -.4 1.8 -.9 1.7 -1.1 1.5 -1.2 1.3 -1.4 .9 -2 1 -8.5 3.1 -11.7 3.4 -15.5 3.6 -11.3 2z"/><path stroke="#3e3e3e" d="M365.3 352.1l-2.5 -.1 -1.5 -.4 -1.5 -.9 -1.2 -1.1 -.8 -1.3 -.3 -1 .4 -1.5 .9 -1.5 1.8 -2 2.7 -1.6 6.8 -3.6 7.7 -3.5 6 -2.3 3.7 -.9 24.5 -3 2.5 -.2 2 .3 2.3 .7 1.4 .9 .2 1.7 -.1 1.8 -.4 1.5 -.8 1.7 -1.1 1.5 -1.2 1.1 -3.8 1.9 -10 3.3 -15.2 4.1 -13.3 2.9 -9.2 1.5z"/><path stroke="#3b3b3b" d="M365.5 351.3l-2.2 0 -1.3 -.2 -1.5 -.8 -1 -1 -.8 -1.2 -.2 -1 .5 -1.5 .8 -1.3 1.5 -1.4 2.5 -1.5 6.7 -3.3 9.3 -4 4.5 -1.6 3.7 -.8 24.3 -3.4 2 -.1 1.7 .3 2.2 .8 .8 .8 .2 1.5 -.1 1.5 -.5 1.7 -.7 1.3 -.8 1 -1.3 1 -3.3 1.5 -9.7 3.2 -15.3 4.2 -13.2 2.9 -8.8 1.4z"/><path stroke="#373737" d="M366.3 350.6l-1.5 .1 -2 -.1 -1.3 -.4 -1 -.9 -.7 -1 -.4 -1.2 .3 -1.3 .8 -1.1 1.3 -1.2 2.5 -1.4 6.5 -3 9.2 -3.7 4.8 -1.7 3.7 -.9 23.8 -3.6 2 -.1 1.5 .3 1.5 .7 .6 .7 .2 1.3 -.1 1.5 -.3 1.2 -.6 1 -1.8 1.7 -3 1.4 -9.8 3.2 -15.2 4.1 -13 3 -8 1.4z"/><path stroke="#343434" d="M364.8 350.1l-1.5 -.1 -1 -.2 -1 -.7 -.7 -.8 -.3 -1 0 -.7 .5 -1 1 -1.1 2.5 -1.4 6.7 -3 11 -4.2 3.8 -1.2 3 -.7 23.5 -3.9 1.7 -.1 1.3 .3 1.1 .5 .5 .8 .2 1.2 0 1 -.3 1 -.7 1 -1.6 1.2 -4 1.7 -8 2.6 -15.5 4.2 -13 3 -7.2 1.4 -2 .2z"/><path stroke="#303030" d="M365.3 349.4l-2.3 0 -.7 -.3 -.8 -.8 -.4 -1 0 -.7 .4 -.8 1 -1 2 -1 6.8 -2.8 11.2 -4.1 6.5 -1.7 14.3 -2.8 9 -1.5 1.5 0 1 .2 .9 .5 .4 .7 .2 1 -.2 1 -.5 1 -.8 .8 -2.8 1.3 -4.5 1.6 -10.5 3.1 -10.2 2.7 -13 3.1 -8.5 1.5z"/><path stroke="#2d2d2d" d="M364.8 348.8l-1.8 0 -.9 -.7 -.3 -1.3 .2 -.5 .8 -.8 2 -1 6.7 -2.6 6 -2.1 8 -2.3 8.5 -2.3 15.3 -3 3.2 -.5 1.3 0 1 .4 .6 1 -.1 1.3 -1.1 1.2 -2.7 1.2 -4.5 1.6 -20.2 5.7 -13 3.1 -9 1.6z"/><path stroke="#292929" d="M365.5 348.1l-1.2 .2 -1.3 -.2 -.4 -.5 0 -.8 .7 -.7 1.7 -.8 9.3 -3.3 15.2 -4.4 14.3 -3.4 9 -1.7 1.2 .2 .6 .6 0 .8 -.2 .5 -1.6 1 -5.8 2 -5.2 1.6 -19.3 5.2 -9 2.2 -8 1.5z"/><path stroke="#262626" d="M364.8 347.6l-1.3 .1 -.2 -.2 0 -.4 .5 -.5 1.5 -.6 6.7 -2.3 11.4 -3.4 15.4 -4 9.7 -2.3 4.5 -.7 .8 .2 .1 .3 -.6 .7 -2.3 1 -7 2.3 -11.2 3.2 -19.5 5 -8.5 1.6z"/></g><clipPath id="cBR"><path d="M340 352 L450 313 L450 370 L340 370Z"/></clipPath><g clip-path="url(#cBR)"><g fill="none" stroke-width="0.5" stroke-opacity="1.0" stroke-linejoin="round"><path stroke="#888888" d="M369 360.6l-5.2 .1 -4 -.6 -3.8 -1.1 -2.7 -1.2 -3.3 -2.2 -2.1 -2.3 -1.2 -1.7 -.6 -1.8 -.1 -3 .9 -2.7 1.5 -2.8 4.1 -5.2 9.5 -9.4 3.8 -3.2 6 -4.2 3.5 -2 3.7 -1.6 3.5 -1 1.8 -.2 2.2 -.1 1 -.2 1 .2 3 0 11 1.4 3.3 0 1.5 .3 .7 -.2 2.8 -.1 1.5 -.2 6 -1.5 5.2 -.9 4.3 0 2.2 .6 2.3 1.2 1.2 .9 2.3 2.5 1.3 3.2 .3 1.5 0 2 -.8 3.7 -1.5 4 -2.7 4.5 -1.9 2.5 -3 3 -5 3.7 -4.2 2.4 -5.5 2.4 -4.3 1.5 -8 2.3 -9.2 2.2 -6.3 1.3 -8.2 1.3 -4.8 .5 -2.2 0 -.8 .2z"/><path stroke="#868686" d="M369.3 360.1l-5.3 .2 -4 -.5 -3.7 -1.1 -2.8 -1.3 -3.2 -2.2 -2 -2.1 -1.2 -1.8 -.5 -1.7 -.1 -2.8 .9 -2.7 1.3 -2.5 2.4 -3.3 1.9 -2.1 9.4 -9.1 3.6 -3.1 6.2 -4.2 3.6 -2 3.2 -1.4 3.8 -1 1.7 -.3 3 -.2 3.8 .1 11 1.3 3.2 0 1.8 .2 5.2 -.5 11 -2.3 4 .1 2.3 .7 2.2 1.1 1.3 1 1.9 2.2 1.2 3 .3 1.5 .1 1.5 -.8 4 -1.5 4 -2.6 4.3 -1.9 2.5 -4.2 4.1 -3.5 2.5 -4 2.2 -5.8 2.5 -4.2 1.5 -7.8 2.2 -9.2 2.3 -6.5 1.3 -10.3 1.5 -5.2 .4z"/><path stroke="#848484" d="M369 359.6l-4.7 .2 -2.8 -.3 -3.7 -.9 -3.8 -1.6 -3.2 -2.2 -1.9 -2 -1.1 -1.7 -.4 -1.3 -.2 -.7 0 -2 .8 -2.8 1.3 -2.3 2.3 -3.2 1.9 -2.2 9.3 -8.8 3.7 -3 6.3 -4.2 3.3 -1.8 3.4 -1.5 5.3 -1.2 6.2 -.1 11.3 1.1 3 0 2 .2 5.5 -.6 5.7 -1.2 5.3 -.8 3.5 .1 2.2 .7 1.8 .9 1.2 1 1.9 2.2 1 2.5 .3 2.5 -.6 4 -1.4 3.7 -2.4 4.3 -2 2.7 -2.3 2.4 -1.7 1.5 -3.3 2.4 -4 2.2 -5.7 2.5 -4.3 1.4 -7.7 2.3 -9.3 2.3 -6.2 1.2 -10.5 1.7 -5.3 .4z"/><path stroke="#818181" d="M368.8 359.1l-4.5 .1 -4 -.5 -3.5 -1 -2.4 -1.1 -3.4 -2.5 -1.6 -1.8 -.9 -1.5 -.5 -1.5 -.1 -2.2 .7 -2.5 1.2 -2.3 2.4 -3.2 2 -2.3 9.1 -8.4 3.7 -2.9 6.3 -4.1 3.2 -1.7 3.3 -1.4 5 -1.2 6 -.2 11.2 1 5.3 .1 4 -.3 7.5 -1.4 5 -.7 3.2 .2 2 .6 1.8 1 1.2 .9 1.4 1.8 .9 2 .4 2.5 -.7 4.2 -1 3 -1 2 -3 4.8 -2.3 2.5 -3.6 3 -2.8 1.8 -2.6 1.4 -5.7 2.4 -4 1.4 -8 2.3 -9.2 2.3 -6.3 1.3 -8.2 1.3 -7.5 .8z"/><path stroke="#7f7f7f" d="M368.5 358.6l-4 .1 -2.7 -.3 -3.5 -.8 -3.3 -1.3 -2.5 -1.7 -2.5 -2.5 -.9 -1.5 -.3 -1 -.2 -2.3 .7 -2.5 1 -2 2.3 -3.2 2.2 -2.5 9 -8.1 3.7 -2.8 6.3 -4 3.2 -1.6 3.3 -1.4 4.7 -1.1 5.8 -.2 11.2 .8 5.3 0 4.2 -.3 7.5 -1.3 5 -.5 3 .3 1.8 .6 2.5 1.6 1.3 1.7 1 3 -.1 2.3 -.8 3.7 -1.4 3.5 -2.9 4.8 -2.2 2.5 -3.4 2.9 -2.8 1.8 -2.7 1.5 -5.4 2.3 -3.9 1.3 -8 2.3 -9.2 2.3 -6.3 1.3 -8.5 1.4 -7.5 .9z"/><path stroke="#7d7d7d" d="M368.3 358.1l-3.8 .1 -2.7 -.3 -3.5 -.8 -2.9 -1.3 -2.5 -1.7 -2.4 -2.5 -1.1 -2.3 -.1 -2 .6 -2.2 1 -2 2.3 -3.3 2.1 -2.3 9 -7.8 3.7 -2.8 5.5 -3.4 2.5 -1.4 4.5 -1.9 4.8 -1.1 5.2 -.3 11.3 .7 5.5 0 4.2 -.4 7.5 -1.1 5 -.4 2.8 .3 1.5 .5 2.2 1.5 1.1 1.4 .9 2.8 -.1 2.5 -.7 3.2 -1.6 4 -2.4 4 -1.9 2.3 -3.5 3 -2.8 1.8 -2.5 1.4 -5.2 2.1 -4 1.4 -8 2.3 -9.3 2.3 -6.2 1.3 -8.3 1.4 -7.7 1z"/><path stroke="#7b7b7b" d="M367.5 357.6l-3 0 -4 -.5 -2.5 -.7 -2.5 -1.2 -2.2 -1.6 -2.3 -2.5 -1 -2.3 .1 -2 .6 -2 1.8 -3 1.3 -1.7 2.7 -2.9 8.2 -6.9 3.9 -2.7 5.9 -3.6 3.5 -1.7 3 -1.2 4.3 -1 5.2 -.3 11.3 .5 5 -.1 15 -1.6 2.5 0 3 .5 2 1.2 1.5 1.7 .7 2.1 -.2 3.5 -.9 3.2 -1.6 3.8 -1.6 2.7 -1.9 2.3 -3.3 2.9 -2.7 1.9 -5 2.4 -5.8 2.1 -12.7 3.6 -6.5 1.6 -9.5 1.9 -6 .9 -6.3 .7z"/><path stroke="#787878" d="M366.3 357.1l-1.8 0 -4 -.5 -2.5 -.8 -2.4 -1.2 -2.1 -1.7 -1.8 -2.1 -1 -2 .1 -2 .6 -1.7 1.7 -3 1.2 -1.6 2.7 -3 8.3 -6.6 4 -2.7 5.7 -3.4 3.5 -1.6 3.5 -1.4 3.5 -.7 4.8 -.4 11.5 .4 4.7 -.1 12.3 -1.3 5.5 -.1 2.2 .4 1 .4 1.5 1.1 .9 1.1 .5 1.5 -.1 3.2 -1.1 4.3 -1.2 2.7 -1.5 2.6 -1.7 2.3 -3.2 2.9 -2.8 1.8 -4.8 2.3 -5.7 2.1 -12.8 3.6 -6.5 1.6 -9.5 1.9 -8.2 1.2 -5 .5z"/><path stroke="#767676" d="M365.5 356.6l-3.2 -.2 -2.5 -.6 -2.3 -.8 -2.7 -1.8 -1.9 -1.9 -1.4 -2.2 -.2 -1.3 .5 -2 .8 -1.7 2 -3 1.9 -2.2 1.5 -1.4 7.8 -5.9 4 -2.7 5.5 -3.1 3.5 -1.7 3.5 -1.3 3.2 -.7 4.5 -.4 11.8 .2 4.7 -.2 11.3 -1.1 4.2 -.1 2.5 .2 2 .4 1.5 .9 .9 1.1 .3 1 .1 1.2 -.3 3.5 -1 3.5 -2 4 -1.6 2.3 -1.9 1.9 -2.5 1.9 -3.5 2 -3 1.3 -6.2 2.3 -8 2.3 -9 2.2 -6.3 1.4 -8.2 1.5 -7.8 1 -2.5 .2z"/><path stroke="#747474" d="M368.3 355.8l-3.3 .3 -2.7 -.2 -2.3 -.5 -2.2 -.9 -1.5 -.9 -1.3 -1 -1.7 -1.8 -1.1 -2 -.1 -1.5 .5 -1.7 1.5 -2.8 1.2 -1.6 2.2 -2.4 2.5 -2.1 6.1 -4.4 7.7 -4.6 4 -2 4.5 -1.8 3.5 -.8 4.2 -.4 16.3 -.2 9.7 -1 3.8 -.1 5.2 .4 1.8 .6 1.1 1.2 .4 2 -.2 2.7 -.6 2.8 -1.4 3.5 -1.6 2.7 -2 2.3 -2.2 1.9 -2.3 1.4 -4.5 2.2 -6 2.1 -12.2 3.5 -6.5 1.6 -9.3 1.9 -11.2 1.6z"/><path stroke="#727272" d="M368 355.3l-3 .2 -2.7 -.2 -2.2 -.5 -2.1 -.8 -1.8 -1.2 -2.4 -2.5 -.9 -1.7 0 -1.5 .7 -2 1.1 -2 1.1 -1.5 2.5 -2.6 8.5 -6.2 7.5 -4.3 4 -2 4.4 -1.7 3.1 -.7 4.2 -.4 12 -.2 16.5 -1.3 3.5 .3 2.5 .4 1.8 .5 .6 .7 .3 2.2 -.4 3.8 -.8 2.5 -1.1 2.7 -1.3 2 -1.6 1.8 -2.2 2 -2 1.3 -4.5 2.1 -6 2.1 -12 3.4 -6.5 1.6 -9.5 2 -11.3 1.7z"/><path stroke="#707070" d="M367.8 354.8l-2.8 .2 -2.5 -.2 -2.2 -.5 -2 -.8 -1.8 -1.2 -2.2 -2.5 -.8 -1.5 .2 -1.5 .5 -1.5 1.1 -2 1.1 -1.5 2.4 -2.4 8.5 -5.9 7.4 -4.2 4.3 -2 4 -1.5 3 -.7 3.8 -.4 12.2 -.4 15.3 -1.2 5 .4 2.5 .6 1 .5 .3 2.2 -.3 3 -.6 2.5 -1.1 2.8 -1.1 1.8 -1.6 1.9 -2.1 1.9 -2 1.3 -4.3 1.9 -6 2.2 -12 3.3 -6.5 1.6 -9.2 2 -11.5 1.8z"/><path stroke="#6d6d6d" d="M367.3 354.3l-2.3 .2 -2.5 -.2 -2 -.5 -2 -.8 -1.6 -1.2 -2 -2.2 -.7 -1.5 .2 -1.3 .9 -2.2 1.1 -1.8 2.9 -3 8.5 -5.7 7.2 -3.9 4.5 -2.1 3.8 -1.4 2.7 -.6 3.8 -.4 11.7 -.6 14.8 -1.2 4.2 .3 3.5 .9 .8 .5 .2 2.5 -.3 2.7 -1 3.3 -.9 1.7 -1.5 2.2 -1.6 1.6 -2.2 1.5 -2 1.1 -2.7 1.2 -6 2.1 -12 3.4 -15.5 3.5 -12 1.9z"/><path stroke="#6b6b6b" d="M366.5 353.8l-1.7 .1 -2.8 -.2 -2 -.6 -1.8 -1 -1.9 -1.8 -1.3 -2 -.1 -.7 .6 -1.8 1.7 -3 1.6 -1.7 1.2 -1.1 8.3 -5.2 8 -4.2 3.7 -1.6 3.5 -1.3 2.8 -.6 3.5 -.5 11.5 -.7 13.7 -1.3 2.8 .2 2.2 .3 3 .9 .8 .5 .1 2.3 -.2 2.3 -.8 2.7 -.8 1.8 -1.3 2 -1.5 1.5 -2 1.5 -2.3 1.1 -8.5 3.2 -14 3.9 -15.2 3.4 -10.8 1.6z"/><path stroke="#696969" d="M366 353.3l-3 0 -1.7 -.3 -1.8 -.8 -1.6 -1.1 -1.4 -1.6 -.8 -1.7 .2 -1.2 .6 -1.6 1.7 -2.4 1.3 -1.4 1.6 -1.1 7.9 -4.8 7.8 -3.8 6.2 -2.6 3.8 -.9 5.2 -.6 13.8 -1.1 6.5 -.8 3 -.1 2.7 .3 2.8 .6 1.5 .6 .4 .4 .2 2 -.2 2.3 -.5 2 -.8 1.7 -1.1 1.8 -1.5 1.6 -1.9 1.4 -2.1 1.1 -8.5 3.1 -8 2.3 -10 2.6 -13 2.8 -9.3 1.3z"/><path stroke="#676767" d="M365.5 352.8l-2.7 0 -1.5 -.4 -1.8 -.8 -1.2 -1 -1.2 -1.5 -.7 -1.3 .1 -1 .9 -2 .8 -1.2 1.3 -1.5 2 -1.5 8 -4.6 7.8 -3.7 6 -2.4 4 -.9 24.7 -2.7 3 -.2 2.3 .3 3 .8 1.4 .9 .1 2 -.2 2.2 -.5 2 -.8 1.5 -.8 1.3 -1.5 1.5 -1.5 1 -2 1 -5.2 2 -6 1.9 -15.3 4.1 -13 2.8 -9.5 1.4z"/><path stroke="#656565" d="M365.3 352.3l-2.5 -.1 -1.5 -.4 -1.5 -.7 -1.4 -1.3 -1 -1.5 -.3 -1 .5 -1.5 .8 -1.5 2.1 -2.2 2.8 -1.8 6.7 -3.6 7.5 -3.5 6.3 -2.4 3.7 -.9 24.5 -2.9 2.8 -.1 2.2 .3 2.5 .8 1.2 .8 .1 1.8 -.1 2 -.4 1.5 -.8 1.7 -1.1 1.5 -1.1 1 -3 1.8 -5.3 2 -5.7 1.8 -15.5 4.1 -13 2.9 -9.5 1.4z"/><path stroke="#626262" d="M367.3 351.6l-2.3 .2 -2.2 -.1 -1.5 -.4 -1.5 -1 -1.1 -1.2 -.8 -1.5 .2 -1.3 .7 -1.5 2 -2.2 2.7 -1.7 6.8 -3.4 7.5 -3.4 6.2 -2.3 3.8 -.9 24.2 -3.2 2.3 -.1 2 .3 2.5 .9 .7 .4 .2 .4 .2 1.7 -.1 1.5 -.5 1.8 -.6 1.2 -.9 1.3 -1.3 1 -3.5 1.8 -7.2 2.6 -14.5 4 -12.8 3 -11.2 2.1z"/><path stroke="#606060" d="M367 351.1l-2 .2 -2.2 -.1 -1.3 -.4 -1.1 -.7 -1.1 -1.3 -.7 -1.5 .2 -1 .6 -1.2 1.6 -1.8 1.5 -1 8 -4 5.8 -2.5 5.5 -2.2 4.7 -1.4 6.5 -1.1 17.3 -2.4 3.2 -.3 1.8 .1 2.2 .7 1.2 .9 .3 1.5 -.1 1.5 -.3 1.5 -.7 1.2 -.8 1 -1.2 1 -3.4 1.7 -9.7 3.2 -11.5 3.2 -14 3.3 -10.3 1.9z"/><path stroke="#5e5e5e" d="M366.5 350.6l-3.5 .1 -1.2 -.4 -1.1 -.7 -1 -1.3 -.4 -1.2 .3 -1 .7 -1.2 1.5 -1.4 2.2 -1.3 6.8 -3.1 7.5 -3.1 6.2 -2.3 3.8 -.9 23.7 -3.6 2 -.1 1.5 .2 1.8 .8 .6 .7 .2 1.3 0 1.5 -.4 1.2 -.6 1 -1.6 1.6 -3.2 1.5 -9.7 3.2 -15.3 4.1 -13 3 -7.8 1.4z"/><path stroke="#5c5c5c" d="M365.8 350.1l-1.3 .1 -1.7 -.1 -1.2 -.5 -.8 -.8 -.6 -1 -.2 -1 .5 -1.2 .9 -1 1.1 -.8 1.8 -.9 6.5 -3 9.5 -3.7 4.7 -1.6 3.8 -.8 23.5 -3.9 1.7 -.1 1.3 .3 1.2 .5 .6 .7 .2 1.3 0 1 -.3 1.2 -.7 1 -1.5 1.3 -3.5 1.5 -8.8 2.8 -15.2 4.2 -13.3 3.1 -8.2 1.4z"/><path stroke="#595959" d="M365.3 349.6l-2.5 0 -1 -.5 -.6 -.8 -.4 -1 0 -.7 .5 -.9 1 -1 2.2 -1.2 6.8 -2.9 11 -4 6.7 -1.9 23.3 -4.1 1.7 0 1 .2 1 .5 .4 .8 .2 1 -.2 1.2 -.5 1 -.7 .8 -1.9 1 -5.3 2 -11 3.2 -10 2.7 -13.2 3.1 -8.5 1.5z"/><path stroke="#575757" d="M365 349.1l-2 0 -.7 -.4 -.6 -.6 -.2 -.8 0 -.7 .4 -.8 .9 -.7 2 -1 6.7 -2.7 11 -3.8 6.5 -1.8 5 -1.1 18.3 -3.4 1.5 0 1 .2 .6 .6 .4 .7 0 1 -.2 .8 -1.1 1.2 -2.7 1.3 -4.5 1.6 -20.5 5.7 -13 3.1 -8.8 1.6z"/><path stroke="#555555" d="M364.8 348.6l-1.6 0 -.9 -.7 -.2 -1.1 .3 -.5 .6 -.6 2 -1 6 -2.3 5 -1.6 7 -2.1 11.3 -3.1 9.2 -2 9.3 -1.6 1.5 .2 .8 .9 -.1 1.2 -1 1.1 -2.5 1.1 -4.5 1.6 -20.3 5.7 -13.2 3.2 -8.7 1.6z"/></g></g>
<rect x="307.5" y="264.5" width="176" height="175.5" fill="none" stroke="#555" stroke-width="1.2"/>
<path d="M302.5 399.8H307.5M302.5 358.3H307.5M302.5 319.3H307.5M302.5 280.3H307.5M304.5 387.3H307.5M304.5 380H307.5M304.5 374.8H307.5M304.5 370.8H307.5M304.5 367.5H307.5M304.5 364.7H307.5M304.5 362.3H307.5M304.5 360.2H307.5M304.5 346.6H307.5M304.5 339.7H307.5M304.5 334.8H307.5M304.5 331H307.5M304.5 328H307.5M304.5 325.3H307.5M304.5 323.1H307.5M304.5 321.1H307.5M304.5 307.6H307.5M304.5 300.7H307.5M304.5 295.8H307.5M304.5 292H307.5M304.5 289H307.5M304.5 286.3H307.5M304.5 284.1H307.5M304.5 282.1H307.5M304.5 268.6H307.5M304.7 403H307.5M304.7 405.7H307.5M304.7 410H307.5M304.7 412.3H307.5M304.7 414.5H307.5M304.7 416.5H307.5M304.7 425H307.5M304.7 427H307.5M304.7 429.5H307.5M304.7 432.5H307.5M304.7 435.5H307.5M304.7 438.5H307.5M388.4 440V445M427.9 440V445M467.4 440V445M400.3 440V443M407.2 440V443M412.2 440V443M416 440V443M419.1 440V443M421.8 440V443M424.1 440V443M426.1 440V443M439.8 440V443M446.7 440V443M451.7 440V443M455.5 440V443M458.6 440V443M461.3 440V443M463.6 440V443M465.6 440V443M479.3 440V443M310 440V442.8M312.5 440V442.8M315 440V442.8M317.5 440V442.8M320 440V442.8M322 440V442.8M331 440V442.8M333 440V442.8M335.5 440V442.8M338 440V442.8M340.5 440V442.8M343 440V442.8M345.5 440V445M358 440V443M363.5 440V443M368 440V443M372.7 440V443M375.8 440V443M379.6 440V443M382 440V443M384.5 440V443M386.5 440V443" stroke="#111" stroke-width="0.9" fill="none"/>
<rect x="303.1" y="418.5" width="4.3" height="4.4" fill="#000"/>
<rect x="324" y="440.6" width="5" height="3.8" fill="#000"/>
<path d="M378.7 264.5V440M307.5 322.8H483.5" stroke="#111" stroke-width="1.4" fill="none"/>
<line x1="307.5" y1="367.2" x2="483.5" y2="305.7" stroke="#000" stroke-width="2.9" stroke-dasharray="2.9 3.14" stroke-dashoffset="-1.6"/>
<g fill="#111"><text x="279.2" y="287.7" font-size="11.5" stroke="#111" stroke-width="0.28">10</text><text x="293" y="282.8" font-size="8.5" stroke="#111" stroke-width="0.28">5</text><text x="279.2" y="326.7" font-size="11.5" stroke="#111" stroke-width="0.28">10</text><text x="293" y="321.9" font-size="8.5" stroke="#111" stroke-width="0.28">4</text><text x="279.2" y="366.4" font-size="11.5" stroke="#111" stroke-width="0.28">10</text><text x="293" y="361.4" font-size="8.5" stroke="#111" stroke-width="0.28">3</text><text x="279.2" y="408.2" font-size="11.5" stroke="#111" stroke-width="0.28">10</text><text x="293" y="403.3" font-size="8.5" stroke="#111" stroke-width="0.28">2</text><text x="285.4" y="426.5" font-size="11.5" stroke="#111" stroke-width="0.28">0</text><text x="324.7" y="462.7" font-size="11.5" stroke="#111" stroke-width="0.28">0</text><text x="380.8" y="462.8" font-size="11.5" stroke="#111" stroke-width="0.28">10</text><text x="394.2" y="457.4" font-size="8.5" stroke="#111" stroke-width="0.28">3</text><text x="420.3" y="462.8" font-size="11.5" stroke="#111" stroke-width="0.28">10</text><text x="433.7" y="457.4" font-size="8.5" stroke="#111" stroke-width="0.28">4</text><text x="459.8" y="462.8" font-size="11.5" stroke="#111" stroke-width="0.28">10</text><text x="473.2" y="457.4" font-size="8.5" stroke="#111" stroke-width="0.28">5</text></g>
<g font-size="11.5" font-weight="bold"><text x="314" y="285" text-anchor="start" fill="#111" font-weight="bold" stroke="#111" stroke-width="0.2">1.27</text><text x="477.5" y="285" text-anchor="end" fill="#111" font-weight="bold" stroke="#111" stroke-width="0.2">9.95</text><text x="469.2" y="308" text-anchor="end" fill="#7e1c3c" font-weight="bold" stroke="#7e1c3c" stroke-width="0.2">5217</text><text x="469.2" y="390" text-anchor="end" fill="#34476e" font-weight="bold" stroke="#34476e" stroke-width="0.2">2459</text><text x="314" y="430" text-anchor="start" fill="#111" font-weight="bold" stroke="#111" stroke-width="0.2">30.7</text><text x="477.5" y="430" text-anchor="end" fill="#111" font-weight="bold" stroke="#111" stroke-width="0.2">58.0</text></g>
<text x="175.6" y="43.8" font-size="15" font-weight="bold" text-anchor="middle" stroke="#111" stroke-width="0.2">Control</text><text x="397.7" y="43.6" font-size="15" font-weight="bold" text-anchor="middle" stroke="#111" stroke-width="0.2">LRBA mutant</text><text x="11.5" y="26.5" font-size="18.5" font-weight="bold" stroke="#111" stroke-width="0.2">A</text><text x="15.6" y="549" font-size="18.5" font-weight="bold" stroke="#111" stroke-width="0.2">B</text><text x="263.5" y="549" font-size="18.5" font-weight="bold" stroke="#111" stroke-width="0.2">C</text>
<text transform="translate(48.9,168.4) rotate(-90)" font-size="15" textLength="56.8" lengthAdjust="spacingAndGlyphs" stroke="#111" stroke-width="0.28">Untreated</text><text transform="translate(49,381.4) rotate(-90)" font-size="14.7" textLength="53.3" lengthAdjust="spacingAndGlyphs" stroke="#111" stroke-width="0.28">CTLA-4Ig</text><text transform="translate(43.9,461) rotate(-90)" font-size="16.3" textLength="46.8" lengthAdjust="spacingAndGlyphs" stroke="#111" stroke-width="0.28">CD80-Ig</text><text x="40.5" y="492.5" font-size="16" textLength="44" lengthAdjust="spacingAndGlyphs" stroke="#111" stroke-width="0.28">CTLA-4</text><text x="88" y="494.5" font-size="11" textLength="50.5" lengthAdjust="spacingAndGlyphs" stroke="#111" stroke-width="0.28">Total (C19)</text><path d="M52 475V400M52 474.5H128" stroke="#000" stroke-width="1.6" fill="none"/><path d="M52 393.5L47.8 403L56.2 403Z M135.5 474.5L126 470.3L126 478.7Z" fill="#000"/>
<rect x="82.4" y="617.5" width="28.8" height="112.3" fill="#a8002c"/>
<rect x="121.6" y="624.8" width="28.5" height="105" fill="#6aaa3e"/>
<rect x="161.5" y="679.1" width="27.8" height="50.7" fill="#4f2263"/>
<rect x="200.1" y="693.8" width="28.4" height="36" fill="#e48c1c"/>
<path d="M77.3 590.4V730.5M76.6 729.8H233.5M72.5 594.8H77.3M72.5 621.8H77.3M72.5 648.8H77.3M72.5 675.8H77.3M72.5 702.8H77.3M72.5 729.8H77.3M96.8 729.8V735.5M135.9 729.8V735.5M175.4 729.8V735.5M214.3 729.8V735.5" stroke="#000" stroke-width="1.5" fill="none"/>
<text x="68.6" y="598.9" font-size="11.6" letter-spacing="0.8" text-anchor="end" stroke="#111" stroke-width="0.28">1.0</text>
<text x="68.6" y="625.9" font-size="11.6" letter-spacing="0.8" text-anchor="end" stroke="#111" stroke-width="0.28">0.8</text>
<text x="68.6" y="652.9" font-size="11.6" letter-spacing="0.8" text-anchor="end" stroke="#111" stroke-width="0.28">0.6</text>
<text x="68.6" y="679.9" font-size="11.6" letter-spacing="0.8" text-anchor="end" stroke="#111" stroke-width="0.28">0.4</text>
<text x="68.6" y="706.9" font-size="11.6" letter-spacing="0.8" text-anchor="end" stroke="#111" stroke-width="0.28">0.2</text>
<text x="68.6" y="733.9" font-size="11.6" letter-spacing="0.8" text-anchor="end" stroke="#111" stroke-width="0.28">0.0</text>
<text transform="translate(42.4,734.6) rotate(-90)" font-size="14" textLength="136.8" lengthAdjust="spacingAndGlyphs" stroke="#111" stroke-width="0.28">Ligand uptake / CTLA-4</text>
<text transform="translate(100.8,746.3) rotate(-45)" font-size="12.4" text-anchor="end" stroke="#111" stroke-width="0.28">Control</text>
<text transform="translate(139.9,746.3) rotate(-45)" font-size="12.4" text-anchor="end" stroke="#111" stroke-width="0.28">LRBA mutant</text>
<text transform="translate(179.4,746.3) rotate(-45)" font-size="12.4" text-anchor="end" stroke="#111" stroke-width="0.28">Control + CTLA-4Ig</text>
<text transform="translate(218.3,746.3) rotate(-45)" font-size="12.4" text-anchor="end" stroke="#111" stroke-width="0.28">LRBA mutant + CTLA-4Ig</text>
<path d="M324.4 603V730.3M323.7 729.6H509.3M319.7 607.4H324.4M319.7 631.8H324.4M319.7 656.3H324.4M319.7 680.8H324.4M319.7 705.2H324.4M319.7 729.6H324.4M354.9 729.6V734.3M416.6 729.6V734.3M478.5 729.6V734.3M347.6 563.5V556H478.2V563.5M347.8 601.5V592.9H410.6V601.5M421.4 601.5V592.9H479V601.5" stroke="#000" stroke-width="1.5" fill="none"/>
<text x="316.6" y="611.8" font-size="11.6" letter-spacing="0.8" text-anchor="end" stroke="#111" stroke-width="0.28">1.0</text>
<text x="316.6" y="636.2" font-size="11.6" letter-spacing="0.8" text-anchor="end" stroke="#111" stroke-width="0.28">0.8</text>
<text x="316.6" y="660.7" font-size="11.6" letter-spacing="0.8" text-anchor="end" stroke="#111" stroke-width="0.28">0.6</text>
<text x="316.6" y="685.2" font-size="11.6" letter-spacing="0.8" text-anchor="end" stroke="#111" stroke-width="0.28">0.4</text>
<text x="316.6" y="709.6" font-size="11.6" letter-spacing="0.8" text-anchor="end" stroke="#111" stroke-width="0.28">0.2</text>
<text x="316.6" y="734" font-size="11.6" letter-spacing="0.8" text-anchor="end" stroke="#111" stroke-width="0.28">0.0</text>
<text transform="translate(289.5,735.5) rotate(-90)" font-size="14" textLength="138" lengthAdjust="spacingAndGlyphs" stroke="#111" stroke-width="0.28">Ligand uptake / CTLA-4</text>
<text x="413" y="551.2" font-size="12" text-anchor="middle" stroke="#111" stroke-width="0.28">P=0.2376</text>
<text x="379" y="585.6" font-size="12" text-anchor="middle" stroke="#111" stroke-width="0.28">P&lt;0.0001</text>
<text x="449.7" y="585.6" font-size="12" text-anchor="middle" stroke="#111" stroke-width="0.28">P=0.0173</text>
<text x="354.7" y="751" font-size="12.2" text-anchor="middle" stroke="#111" stroke-width="0.28">Control</text>
<text x="416.8" y="751" font-size="12.2" text-anchor="middle" stroke="#111" stroke-width="0.28">CTLA-4</text>
<text x="417.3" y="765" font-size="12.2" text-anchor="middle" stroke="#111" stroke-width="0.28">mut</text>
<text x="478.5" y="751" font-size="12.2" text-anchor="middle" stroke="#111" stroke-width="0.28">LRBA</text>
<text x="478.5" y="765" font-size="12.2" text-anchor="middle" stroke="#111" stroke-width="0.28">mut</text>
<g fill="#a1123c"><circle cx="350.8" cy="616.6" r="2.6"/><circle cx="358.8" cy="615.4" r="2.6"/><circle cx="340" cy="628.5" r="2.6"/><circle cx="347.4" cy="628.9" r="2.6"/><circle cx="355.1" cy="631.2" r="2.6"/><circle cx="362.3" cy="628.5" r="2.6"/><circle cx="370" cy="625.4" r="2.6"/><circle cx="343.4" cy="642.8" r="2.6"/><circle cx="351.1" cy="646.2" r="2.6"/><circle cx="358.8" cy="644.3" r="2.6"/><circle cx="366.2" cy="642.3" r="2.6"/></g>
<g fill="#2f4b7c"><rect x="414.2" y="634.6" width="4.6" height="4.6"/><rect x="414.2" y="655.2" width="4.6" height="4.6"/><rect x="403.1" y="675" width="4.6" height="4.6"/><rect x="410.4" y="677.7" width="4.6" height="4.6"/><rect x="418.1" y="676.9" width="4.6" height="4.6"/><rect x="425.8" y="674.4" width="4.6" height="4.6"/></g>
<g fill="#6c9e4c"><path d="M474.3 626.8L471.4 631.8L477.2 631.8Z"/><path d="M482 633.3L479.1 638.3L484.9 638.3Z"/><path d="M482 640.5L479.1 645.5L484.9 645.5Z"/><path d="M474.3 645.7L471.4 650.7L477.2 650.7Z"/></g>
<path d="M334.2 632.3H375.4M343.8 620.8H365.8M343.8 642.3H365.8M355.1 620.8V642.3M396.2 668.1H437.1M405.8 650.4H427.5M405.8 685.4H427.5M416.5 650.4V685.4M457.5 639.4H499M467.6 631.2H489.1M467.6 647.1H489.1M478.6 631.2V647.1" stroke="#000" stroke-width="1.9" fill="none"/>
<rect x="1" y="1" width="518" height="859" fill="none" stroke="#000" stroke-width="2"/>
</svg>
</body></html>
